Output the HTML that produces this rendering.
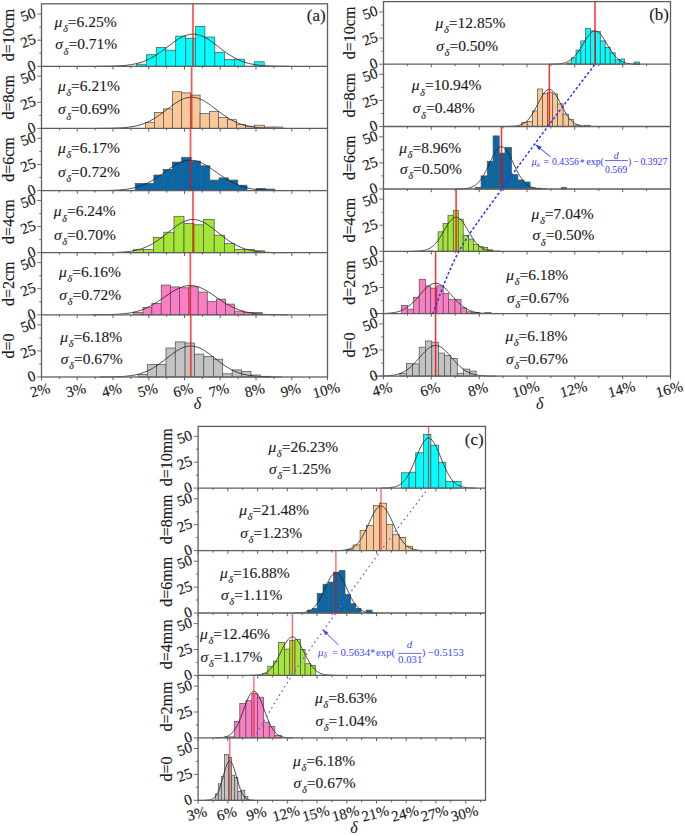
<!DOCTYPE html>
<html><head><meta charset="utf-8"><title>Histograms</title><style>html,body{margin:0;padding:0;background:#fff;width:685px;height:836px;overflow:hidden;}</style></head><body>
<svg width="685" height="836" viewBox="0 0 685 836" style="position:absolute;left:0;top:0;font-family:'Liberation Serif', serif;">
<rect x="0" y="0" width="685" height="836" fill="#ffffff"/>
<rect x="136.3" y="64.2" width="10.1" height="2.1" fill="#00ffff" stroke="#555" stroke-width="0.75"/>
<rect x="146.4" y="54.7" width="9.9" height="11.6" fill="#00ffff" stroke="#555" stroke-width="0.75"/>
<rect x="156.3" y="47.5" width="9.5" height="18.8" fill="#00ffff" stroke="#555" stroke-width="0.75"/>
<rect x="165.8" y="50.2" width="9.9" height="16.1" fill="#00ffff" stroke="#555" stroke-width="0.75"/>
<rect x="175.7" y="36.1" width="10" height="30.2" fill="#00ffff" stroke="#555" stroke-width="0.75"/>
<rect x="185.7" y="38.3" width="9.7" height="28" fill="#00ffff" stroke="#555" stroke-width="0.75"/>
<rect x="195.4" y="26.4" width="9.5" height="39.9" fill="#00ffff" stroke="#555" stroke-width="0.75"/>
<rect x="204.9" y="37" width="9.9" height="29.3" fill="#00ffff" stroke="#555" stroke-width="0.75"/>
<rect x="214.8" y="52.3" width="9.8" height="14" fill="#00ffff" stroke="#555" stroke-width="0.75"/>
<rect x="224.6" y="59.6" width="9.9" height="6.7" fill="#00ffff" stroke="#555" stroke-width="0.75"/>
<rect x="234.5" y="59.2" width="10" height="7.1" fill="#00ffff" stroke="#555" stroke-width="0.75"/>
<rect x="254.2" y="61.8" width="10" height="4.5" fill="#00ffff" stroke="#555" stroke-width="0.75"/>
<polyline points="96.5,66.3 99.0,66.3 101.4,66.3 103.8,66.2 106.2,66.2 108.6,66.2 111.0,66.1 113.4,66.1 115.8,66.0 118.2,65.9 120.7,65.7 123.1,65.6 125.5,65.4 127.9,65.1 130.3,64.8 132.7,64.4 135.1,63.9 137.5,63.3 140.0,62.7 142.4,61.9 144.8,61.0 147.2,60.0 149.6,58.8 152.0,57.6 154.4,56.2 156.8,54.6 159.2,53.0 161.7,51.3 164.1,49.5 166.5,47.6 168.9,45.8 171.3,44.0 173.7,42.2 176.1,40.5 178.5,38.9 180.9,37.5 183.4,36.3 185.8,35.4 188.2,34.7 190.6,34.2 193.0,34.1 195.4,34.2 197.8,34.7 200.2,35.4 202.6,36.3 205.1,37.5 207.5,38.9 209.9,40.5 212.3,42.2 214.7,44.0 217.1,45.8 219.5,47.6 221.9,49.5 224.3,51.3 226.8,53.0 229.2,54.6 231.6,56.2 234.0,57.6 236.4,58.8 238.8,60.0 241.2,61.0 243.6,61.9 246.0,62.7 248.5,63.3 250.9,63.9 253.3,64.4 255.7,64.8 258.1,65.1 260.5,65.4 262.9,65.6 265.3,65.7 267.8,65.9 270.2,66.0 272.6,66.1 275.0,66.1 277.4,66.2 279.8,66.2 282.2,66.2 284.6,66.3 287.0,66.3 289.5,66.3" fill="none" stroke="#222" stroke-width="0.8"/>
<line x1="193" y1="3.8" x2="193" y2="66.3" stroke="#ff0000" stroke-opacity="0.66" stroke-width="1.8"/>
<rect x="145.5" y="122.3" width="8.9" height="6.1" fill="#fac898" stroke="#555" stroke-width="0.75"/>
<rect x="154.4" y="112.6" width="9" height="15.8" fill="#fac898" stroke="#555" stroke-width="0.75"/>
<rect x="163.4" y="108.9" width="9.1" height="19.5" fill="#fac898" stroke="#555" stroke-width="0.75"/>
<rect x="172.5" y="91.7" width="9.1" height="36.7" fill="#fac898" stroke="#555" stroke-width="0.75"/>
<rect x="181.6" y="92.9" width="9.2" height="35.5" fill="#fac898" stroke="#555" stroke-width="0.75"/>
<rect x="190.8" y="95.1" width="9.3" height="33.3" fill="#fac898" stroke="#555" stroke-width="0.75"/>
<rect x="200.1" y="113.5" width="9.4" height="14.9" fill="#fac898" stroke="#555" stroke-width="0.75"/>
<rect x="209.5" y="111.6" width="8.9" height="16.8" fill="#fac898" stroke="#555" stroke-width="0.75"/>
<rect x="218.4" y="117.4" width="9.1" height="11" fill="#fac898" stroke="#555" stroke-width="0.75"/>
<rect x="227.5" y="119.7" width="9.1" height="8.7" fill="#fac898" stroke="#555" stroke-width="0.75"/>
<rect x="236.6" y="124.6" width="9" height="3.8" fill="#fac898" stroke="#555" stroke-width="0.75"/>
<rect x="245.6" y="126.2" width="8.9" height="2.2" fill="#fac898" stroke="#555" stroke-width="0.75"/>
<rect x="254.5" y="125.2" width="9.8" height="3.2" fill="#fac898" stroke="#555" stroke-width="0.75"/>
<rect x="264.3" y="127" width="9.3" height="1.4" fill="#fac898" stroke="#555" stroke-width="0.75"/>
<rect x="273.6" y="127" width="8.8" height="1.4" fill="#fac898" stroke="#555" stroke-width="0.75"/>
<polyline points="97.9,128.4 100.2,128.4 102.6,128.4 104.9,128.3 107.2,128.3 109.6,128.3 111.9,128.2 114.3,128.2 116.6,128.1 119.0,128.0 121.3,127.9 123.6,127.7 126.0,127.5 128.3,127.2 130.7,126.9 133.0,126.5 135.4,126.1 137.7,125.5 140.0,124.9 142.4,124.1 144.7,123.3 147.1,122.3 149.4,121.2 151.8,119.9 154.1,118.6 156.4,117.1 158.8,115.5 161.1,113.8 163.5,112.1 165.8,110.3 168.2,108.5 170.5,106.8 172.9,105.0 175.2,103.4 177.5,101.9 179.9,100.5 182.2,99.4 184.6,98.4 186.9,97.8 189.3,97.3 191.6,97.2 193.9,97.3 196.3,97.8 198.6,98.4 201.0,99.4 203.3,100.5 205.7,101.9 208.0,103.4 210.3,105.0 212.7,106.8 215.0,108.5 217.4,110.3 219.7,112.1 222.1,113.8 224.4,115.5 226.8,117.1 229.1,118.6 231.4,119.9 233.8,121.2 236.1,122.3 238.5,123.3 240.8,124.1 243.2,124.9 245.5,125.5 247.8,126.1 250.2,126.5 252.5,126.9 254.9,127.2 257.2,127.5 259.6,127.7 261.9,127.9 264.2,128.0 266.6,128.1 268.9,128.2 271.3,128.2 273.6,128.3 276.0,128.3 278.3,128.3 280.6,128.4 283.0,128.4 285.3,128.4" fill="none" stroke="#222" stroke-width="0.8"/>
<line x1="191.6" y1="66.3" x2="191.6" y2="128.4" stroke="#ff0000" stroke-opacity="0.66" stroke-width="1.8"/>
<rect x="135.2" y="183.4" width="9.3" height="7.2" fill="#0568aa" stroke="#555" stroke-width="0.75"/>
<rect x="144.5" y="183.4" width="9.4" height="7.2" fill="#0568aa" stroke="#555" stroke-width="0.75"/>
<rect x="153.9" y="175" width="9.3" height="15.6" fill="#0568aa" stroke="#555" stroke-width="0.75"/>
<rect x="163.2" y="169.4" width="9.1" height="21.2" fill="#0568aa" stroke="#555" stroke-width="0.75"/>
<rect x="172.3" y="162.1" width="9.4" height="28.5" fill="#0568aa" stroke="#555" stroke-width="0.75"/>
<rect x="181.7" y="157.3" width="9.4" height="33.3" fill="#0568aa" stroke="#555" stroke-width="0.75"/>
<rect x="191.1" y="161.1" width="9.5" height="29.5" fill="#0568aa" stroke="#555" stroke-width="0.75"/>
<rect x="200.6" y="165.8" width="9.2" height="24.8" fill="#0568aa" stroke="#555" stroke-width="0.75"/>
<rect x="209.8" y="180.1" width="9.2" height="10.5" fill="#0568aa" stroke="#555" stroke-width="0.75"/>
<rect x="219" y="177.9" width="9.4" height="12.7" fill="#0568aa" stroke="#555" stroke-width="0.75"/>
<rect x="228.4" y="180.1" width="9.4" height="10.5" fill="#0568aa" stroke="#555" stroke-width="0.75"/>
<rect x="237.8" y="185.2" width="9.2" height="5.4" fill="#0568aa" stroke="#555" stroke-width="0.75"/>
<rect x="256.2" y="188.4" width="9.1" height="2.2" fill="#0568aa" stroke="#555" stroke-width="0.75"/>
<rect x="265.3" y="189.1" width="9.5" height="1.5" fill="#0568aa" stroke="#555" stroke-width="0.75"/>
<polyline points="92.7,190.6 95.1,190.6 97.6,190.6 100.0,190.5 102.5,190.5 104.9,190.5 107.4,190.4 109.8,190.4 112.3,190.3 114.7,190.2 117.1,190.1 119.6,189.9 122.0,189.7 124.5,189.5 126.9,189.2 129.4,188.8 131.8,188.3 134.3,187.8 136.7,187.2 139.1,186.4 141.6,185.6 144.0,184.6 146.5,183.6 148.9,182.3 151.4,181.0 153.8,179.6 156.3,178.0 158.7,176.4 161.2,174.7 163.6,173.0 166.0,171.2 168.5,169.5 170.9,167.8 173.4,166.2 175.8,164.8 178.3,163.4 180.7,162.3 183.2,161.4 185.6,160.7 188.1,160.3 190.5,160.2 192.9,160.3 195.4,160.7 197.8,161.4 200.3,162.3 202.7,163.4 205.2,164.8 207.6,166.2 210.1,167.8 212.5,169.5 215.0,171.2 217.4,173.0 219.8,174.7 222.3,176.4 224.7,178.0 227.2,179.6 229.6,181.0 232.1,182.3 234.5,183.6 237.0,184.6 239.4,185.6 241.9,186.4 244.3,187.2 246.7,187.8 249.2,188.3 251.6,188.8 254.1,189.2 256.5,189.5 259.0,189.7 261.4,189.9 263.9,190.1 266.3,190.2 268.7,190.3 271.2,190.4 273.6,190.4 276.1,190.5 278.5,190.5 281.0,190.5 283.4,190.6 285.9,190.6 288.3,190.6" fill="none" stroke="#222" stroke-width="0.8"/>
<line x1="190.5" y1="128.4" x2="190.5" y2="190.6" stroke="#ff0000" stroke-opacity="0.66" stroke-width="1.8"/>
<rect x="133.4" y="249.7" width="10" height="3" fill="#a3e635" stroke="#555" stroke-width="0.75"/>
<rect x="143.4" y="249.4" width="10.1" height="3.3" fill="#a3e635" stroke="#555" stroke-width="0.75"/>
<rect x="153.5" y="237.4" width="10.3" height="15.3" fill="#a3e635" stroke="#555" stroke-width="0.75"/>
<rect x="163.8" y="232.2" width="10.2" height="20.5" fill="#a3e635" stroke="#555" stroke-width="0.75"/>
<rect x="174" y="216.3" width="10" height="36.4" fill="#a3e635" stroke="#555" stroke-width="0.75"/>
<rect x="184" y="223.6" width="10" height="29.1" fill="#a3e635" stroke="#555" stroke-width="0.75"/>
<rect x="194" y="224.8" width="9.5" height="27.9" fill="#a3e635" stroke="#555" stroke-width="0.75"/>
<rect x="203.5" y="219.5" width="10.7" height="33.2" fill="#a3e635" stroke="#555" stroke-width="0.75"/>
<rect x="214.2" y="235.2" width="10.2" height="17.5" fill="#a3e635" stroke="#555" stroke-width="0.75"/>
<rect x="224.4" y="243.5" width="10.2" height="9.2" fill="#a3e635" stroke="#555" stroke-width="0.75"/>
<rect x="234.6" y="249.4" width="10" height="3.3" fill="#a3e635" stroke="#555" stroke-width="0.75"/>
<rect x="244.6" y="249.4" width="9.7" height="3.3" fill="#a3e635" stroke="#555" stroke-width="0.75"/>
<rect x="254.3" y="250.8" width="10.3" height="1.9" fill="#a3e635" stroke="#555" stroke-width="0.75"/>
<polyline points="97.9,252.7 100.3,252.7 102.7,252.7 105.0,252.6 107.4,252.6 109.8,252.6 112.2,252.5 114.5,252.5 116.9,252.4 119.3,252.3 121.7,252.1 124.1,252.0 126.4,251.7 128.8,251.5 131.2,251.1 133.6,250.7 135.9,250.2 138.3,249.6 140.7,249.0 143.1,248.2 145.5,247.2 147.8,246.2 150.2,245.0 152.6,243.7 155.0,242.2 157.3,240.7 159.7,239.0 162.1,237.2 164.5,235.4 166.8,233.5 169.2,231.6 171.6,229.7 174.0,227.8 176.4,226.1 178.7,224.5 181.1,223.0 183.5,221.8 185.9,220.8 188.2,220.1 190.6,219.6 193.0,219.5 195.4,219.6 197.8,220.1 200.1,220.8 202.5,221.8 204.9,223.0 207.3,224.5 209.6,226.1 212.0,227.8 214.4,229.7 216.8,231.6 219.2,233.5 221.5,235.4 223.9,237.2 226.3,239.0 228.7,240.7 231.0,242.2 233.4,243.7 235.8,245.0 238.2,246.2 240.5,247.2 242.9,248.2 245.3,249.0 247.7,249.6 250.1,250.2 252.4,250.7 254.8,251.1 257.2,251.5 259.6,251.7 261.9,252.0 264.3,252.1 266.7,252.3 269.1,252.4 271.5,252.5 273.8,252.5 276.2,252.6 278.6,252.6 281.0,252.6 283.3,252.7 285.7,252.7 288.1,252.7" fill="none" stroke="#222" stroke-width="0.8"/>
<line x1="193" y1="190.6" x2="193" y2="252.7" stroke="#ff0000" stroke-opacity="0.66" stroke-width="1.8"/>
<rect x="133.4" y="312.3" width="9.6" height="2.5" fill="#fc7dc3" stroke="#555" stroke-width="0.75"/>
<rect x="143" y="307.6" width="8.9" height="7.2" fill="#fc7dc3" stroke="#555" stroke-width="0.75"/>
<rect x="151.9" y="303.4" width="9.3" height="11.4" fill="#fc7dc3" stroke="#555" stroke-width="0.75"/>
<rect x="161.2" y="285.1" width="9.4" height="29.7" fill="#fc7dc3" stroke="#555" stroke-width="0.75"/>
<rect x="170.6" y="286.9" width="9" height="27.9" fill="#fc7dc3" stroke="#555" stroke-width="0.75"/>
<rect x="179.6" y="287.8" width="9.3" height="27" fill="#fc7dc3" stroke="#555" stroke-width="0.75"/>
<rect x="188.9" y="286.8" width="9.3" height="28" fill="#fc7dc3" stroke="#555" stroke-width="0.75"/>
<rect x="198.2" y="292.1" width="9.1" height="22.7" fill="#fc7dc3" stroke="#555" stroke-width="0.75"/>
<rect x="207.3" y="301.6" width="9.1" height="13.2" fill="#fc7dc3" stroke="#555" stroke-width="0.75"/>
<rect x="216.4" y="299.1" width="9.2" height="15.7" fill="#fc7dc3" stroke="#555" stroke-width="0.75"/>
<rect x="225.6" y="304.1" width="9" height="10.7" fill="#fc7dc3" stroke="#555" stroke-width="0.75"/>
<rect x="234.6" y="311.1" width="9.1" height="3.7" fill="#fc7dc3" stroke="#555" stroke-width="0.75"/>
<rect x="243.7" y="312.6" width="9.2" height="2.2" fill="#fc7dc3" stroke="#555" stroke-width="0.75"/>
<rect x="252.9" y="312.6" width="9.2" height="2.2" fill="#fc7dc3" stroke="#555" stroke-width="0.75"/>
<polyline points="92.5,314.8 94.9,314.8 97.4,314.8 99.8,314.7 102.3,314.7 104.7,314.7 107.2,314.6 109.6,314.6 112.1,314.5 114.5,314.4 116.9,314.3 119.4,314.1 121.8,313.9 124.3,313.7 126.7,313.4 129.2,313.1 131.6,312.6 134.1,312.1 136.5,311.5 138.9,310.8 141.4,310.0 143.8,309.1 146.3,308.0 148.7,306.8 151.2,305.6 153.6,304.2 156.1,302.7 158.5,301.1 161.0,299.5 163.4,297.8 165.8,296.1 168.3,294.5 170.7,292.8 173.2,291.3 175.6,289.9 178.1,288.6 180.5,287.5 183.0,286.7 185.4,286.0 187.9,285.6 190.3,285.5 192.7,285.6 195.2,286.0 197.6,286.7 200.1,287.5 202.5,288.6 205.0,289.9 207.4,291.3 209.9,292.8 212.3,294.5 214.8,296.1 217.2,297.8 219.6,299.5 222.1,301.1 224.5,302.7 227.0,304.2 229.4,305.6 231.9,306.8 234.3,308.0 236.8,309.1 239.2,310.0 241.7,310.8 244.1,311.5 246.5,312.1 249.0,312.6 251.4,313.1 253.9,313.4 256.3,313.7 258.8,313.9 261.2,314.1 263.7,314.3 266.1,314.4 268.5,314.5 271.0,314.6 273.4,314.6 275.9,314.7 278.3,314.7 280.8,314.7 283.2,314.8 285.7,314.8 288.1,314.8" fill="none" stroke="#222" stroke-width="0.8"/>
<line x1="190.3" y1="252.7" x2="190.3" y2="314.8" stroke="#ff0000" stroke-opacity="0.66" stroke-width="1.8"/>
<rect x="138.2" y="374.6" width="9.1" height="2.4" fill="#c3c3c3" stroke="#555" stroke-width="0.75"/>
<rect x="147.3" y="364.4" width="9.3" height="12.6" fill="#c3c3c3" stroke="#555" stroke-width="0.75"/>
<rect x="156.6" y="364.4" width="9.4" height="12.6" fill="#c3c3c3" stroke="#555" stroke-width="0.75"/>
<rect x="166" y="348" width="9.3" height="29" fill="#c3c3c3" stroke="#555" stroke-width="0.75"/>
<rect x="175.3" y="341.9" width="9.8" height="35.1" fill="#c3c3c3" stroke="#555" stroke-width="0.75"/>
<rect x="185.1" y="343" width="9.5" height="34" fill="#c3c3c3" stroke="#555" stroke-width="0.75"/>
<rect x="194.6" y="354.1" width="9.2" height="22.9" fill="#c3c3c3" stroke="#555" stroke-width="0.75"/>
<rect x="203.8" y="356.4" width="9.7" height="20.6" fill="#c3c3c3" stroke="#555" stroke-width="0.75"/>
<rect x="213.5" y="359.2" width="9.2" height="17.8" fill="#c3c3c3" stroke="#555" stroke-width="0.75"/>
<rect x="222.7" y="373.8" width="9.5" height="3.2" fill="#c3c3c3" stroke="#555" stroke-width="0.75"/>
<rect x="232.2" y="369.9" width="9.5" height="7.1" fill="#c3c3c3" stroke="#555" stroke-width="0.75"/>
<rect x="241.7" y="371.6" width="9.2" height="5.4" fill="#c3c3c3" stroke="#555" stroke-width="0.75"/>
<rect x="250.9" y="375" width="9.4" height="2" fill="#c3c3c3" stroke="#555" stroke-width="0.75"/>
<rect x="260.3" y="376.3" width="9.9" height="0.7" fill="#c3c3c3" stroke="#555" stroke-width="0.75"/>
<polyline points="99.8,377.0 102.1,377.0 104.3,377.0 106.6,376.9 108.9,376.9 111.2,376.9 113.4,376.8 115.7,376.8 118.0,376.7 120.3,376.6 122.5,376.5 124.8,376.3 127.1,376.1 129.4,375.8 131.6,375.5 133.9,375.2 136.2,374.7 138.5,374.2 140.7,373.5 143.0,372.8 145.3,371.9 147.6,370.9 149.8,369.8 152.1,368.6 154.4,367.2 156.7,365.8 158.9,364.2 161.2,362.5 163.5,360.8 165.8,359.0 168.0,357.3 170.3,355.5 172.6,353.8 174.9,352.1 177.1,350.6 179.4,349.3 181.7,348.2 184.0,347.2 186.2,346.6 188.5,346.1 190.8,346.0 193.1,346.1 195.4,346.6 197.6,347.2 199.9,348.2 202.2,349.3 204.5,350.6 206.7,352.1 209.0,353.8 211.3,355.5 213.6,357.3 215.8,359.0 218.1,360.8 220.4,362.5 222.7,364.2 224.9,365.8 227.2,367.2 229.5,368.6 231.8,369.8 234.0,370.9 236.3,371.9 238.6,372.8 240.9,373.5 243.1,374.2 245.4,374.7 247.7,375.2 250.0,375.5 252.2,375.8 254.5,376.1 256.8,376.3 259.1,376.5 261.3,376.6 263.6,376.7 265.9,376.8 268.2,376.8 270.4,376.9 272.7,376.9 275.0,376.9 277.3,377.0 279.5,377.0 281.8,377.0" fill="none" stroke="#222" stroke-width="0.8"/>
<line x1="190.8" y1="314.8" x2="190.8" y2="377" stroke="#ff0000" stroke-opacity="0.66" stroke-width="1.8"/>
<rect x="41.5" y="3.8" width="286.0" height="373.2" fill="none" stroke="#5e5e5e" stroke-width="1.3"/>
<line x1="41.5" y1="66.3" x2="327.5" y2="66.3" stroke="#5e5e5e" stroke-width="1.3"/>
<line x1="41.5" y1="128.4" x2="327.5" y2="128.4" stroke="#5e5e5e" stroke-width="1.3"/>
<line x1="41.5" y1="190.6" x2="327.5" y2="190.6" stroke="#5e5e5e" stroke-width="1.3"/>
<line x1="41.5" y1="252.7" x2="327.5" y2="252.7" stroke="#5e5e5e" stroke-width="1.3"/>
<line x1="41.5" y1="314.8" x2="327.5" y2="314.8" stroke="#5e5e5e" stroke-width="1.3"/>
<line x1="37.2" y1="66.3" x2="41.5" y2="66.3" stroke="#5e5e5e" stroke-width="0.9"/>
<line x1="39.3" y1="53.2" x2="41.5" y2="53.2" stroke="#5e5e5e" stroke-width="0.9"/>
<line x1="37.2" y1="40.2" x2="41.5" y2="40.2" stroke="#5e5e5e" stroke-width="0.9"/>
<line x1="39.3" y1="27.1" x2="41.5" y2="27.1" stroke="#5e5e5e" stroke-width="0.9"/>
<line x1="37.2" y1="14.1" x2="41.5" y2="14.1" stroke="#5e5e5e" stroke-width="0.9"/>
<line x1="41.5" y1="66.3" x2="41.5" y2="69.5" stroke="#5e5e5e" stroke-width="1.0"/>
<line x1="59.4" y1="66.3" x2="59.4" y2="68.3" stroke="#5e5e5e" stroke-width="1.0"/>
<line x1="77.2" y1="66.3" x2="77.2" y2="69.5" stroke="#5e5e5e" stroke-width="1.0"/>
<line x1="95.1" y1="66.3" x2="95.1" y2="68.3" stroke="#5e5e5e" stroke-width="1.0"/>
<line x1="113.0" y1="66.3" x2="113.0" y2="69.5" stroke="#5e5e5e" stroke-width="1.0"/>
<line x1="130.9" y1="66.3" x2="130.9" y2="68.3" stroke="#5e5e5e" stroke-width="1.0"/>
<line x1="148.8" y1="66.3" x2="148.8" y2="69.5" stroke="#5e5e5e" stroke-width="1.0"/>
<line x1="166.6" y1="66.3" x2="166.6" y2="68.3" stroke="#5e5e5e" stroke-width="1.0"/>
<line x1="184.5" y1="66.3" x2="184.5" y2="69.5" stroke="#5e5e5e" stroke-width="1.0"/>
<line x1="202.4" y1="66.3" x2="202.4" y2="68.3" stroke="#5e5e5e" stroke-width="1.0"/>
<line x1="220.2" y1="66.3" x2="220.2" y2="69.5" stroke="#5e5e5e" stroke-width="1.0"/>
<line x1="238.1" y1="66.3" x2="238.1" y2="68.3" stroke="#5e5e5e" stroke-width="1.0"/>
<line x1="256.0" y1="66.3" x2="256.0" y2="69.5" stroke="#5e5e5e" stroke-width="1.0"/>
<line x1="273.9" y1="66.3" x2="273.9" y2="68.3" stroke="#5e5e5e" stroke-width="1.0"/>
<line x1="291.8" y1="66.3" x2="291.8" y2="69.5" stroke="#5e5e5e" stroke-width="1.0"/>
<line x1="309.6" y1="66.3" x2="309.6" y2="68.3" stroke="#5e5e5e" stroke-width="1.0"/>
<line x1="327.5" y1="66.3" x2="327.5" y2="69.5" stroke="#5e5e5e" stroke-width="1.0"/>
<line x1="37.2" y1="128.4" x2="41.5" y2="128.4" stroke="#5e5e5e" stroke-width="0.9"/>
<line x1="39.3" y1="115.4" x2="41.5" y2="115.4" stroke="#5e5e5e" stroke-width="0.9"/>
<line x1="37.2" y1="102.3" x2="41.5" y2="102.3" stroke="#5e5e5e" stroke-width="0.9"/>
<line x1="39.3" y1="89.2" x2="41.5" y2="89.2" stroke="#5e5e5e" stroke-width="0.9"/>
<line x1="37.2" y1="76.2" x2="41.5" y2="76.2" stroke="#5e5e5e" stroke-width="0.9"/>
<line x1="41.5" y1="128.4" x2="41.5" y2="131.6" stroke="#5e5e5e" stroke-width="1.0"/>
<line x1="59.4" y1="128.4" x2="59.4" y2="130.4" stroke="#5e5e5e" stroke-width="1.0"/>
<line x1="77.2" y1="128.4" x2="77.2" y2="131.6" stroke="#5e5e5e" stroke-width="1.0"/>
<line x1="95.1" y1="128.4" x2="95.1" y2="130.4" stroke="#5e5e5e" stroke-width="1.0"/>
<line x1="113.0" y1="128.4" x2="113.0" y2="131.6" stroke="#5e5e5e" stroke-width="1.0"/>
<line x1="130.9" y1="128.4" x2="130.9" y2="130.4" stroke="#5e5e5e" stroke-width="1.0"/>
<line x1="148.8" y1="128.4" x2="148.8" y2="131.6" stroke="#5e5e5e" stroke-width="1.0"/>
<line x1="166.6" y1="128.4" x2="166.6" y2="130.4" stroke="#5e5e5e" stroke-width="1.0"/>
<line x1="184.5" y1="128.4" x2="184.5" y2="131.6" stroke="#5e5e5e" stroke-width="1.0"/>
<line x1="202.4" y1="128.4" x2="202.4" y2="130.4" stroke="#5e5e5e" stroke-width="1.0"/>
<line x1="220.2" y1="128.4" x2="220.2" y2="131.6" stroke="#5e5e5e" stroke-width="1.0"/>
<line x1="238.1" y1="128.4" x2="238.1" y2="130.4" stroke="#5e5e5e" stroke-width="1.0"/>
<line x1="256.0" y1="128.4" x2="256.0" y2="131.6" stroke="#5e5e5e" stroke-width="1.0"/>
<line x1="273.9" y1="128.4" x2="273.9" y2="130.4" stroke="#5e5e5e" stroke-width="1.0"/>
<line x1="291.8" y1="128.4" x2="291.8" y2="131.6" stroke="#5e5e5e" stroke-width="1.0"/>
<line x1="309.6" y1="128.4" x2="309.6" y2="130.4" stroke="#5e5e5e" stroke-width="1.0"/>
<line x1="327.5" y1="128.4" x2="327.5" y2="131.6" stroke="#5e5e5e" stroke-width="1.0"/>
<line x1="37.2" y1="190.6" x2="41.5" y2="190.6" stroke="#5e5e5e" stroke-width="0.9"/>
<line x1="39.3" y1="177.5" x2="41.5" y2="177.5" stroke="#5e5e5e" stroke-width="0.9"/>
<line x1="37.2" y1="164.5" x2="41.5" y2="164.5" stroke="#5e5e5e" stroke-width="0.9"/>
<line x1="39.3" y1="151.4" x2="41.5" y2="151.4" stroke="#5e5e5e" stroke-width="0.9"/>
<line x1="37.2" y1="138.4" x2="41.5" y2="138.4" stroke="#5e5e5e" stroke-width="0.9"/>
<line x1="41.5" y1="190.6" x2="41.5" y2="193.79999999999998" stroke="#5e5e5e" stroke-width="1.0"/>
<line x1="59.4" y1="190.6" x2="59.4" y2="192.6" stroke="#5e5e5e" stroke-width="1.0"/>
<line x1="77.2" y1="190.6" x2="77.2" y2="193.79999999999998" stroke="#5e5e5e" stroke-width="1.0"/>
<line x1="95.1" y1="190.6" x2="95.1" y2="192.6" stroke="#5e5e5e" stroke-width="1.0"/>
<line x1="113.0" y1="190.6" x2="113.0" y2="193.79999999999998" stroke="#5e5e5e" stroke-width="1.0"/>
<line x1="130.9" y1="190.6" x2="130.9" y2="192.6" stroke="#5e5e5e" stroke-width="1.0"/>
<line x1="148.8" y1="190.6" x2="148.8" y2="193.79999999999998" stroke="#5e5e5e" stroke-width="1.0"/>
<line x1="166.6" y1="190.6" x2="166.6" y2="192.6" stroke="#5e5e5e" stroke-width="1.0"/>
<line x1="184.5" y1="190.6" x2="184.5" y2="193.79999999999998" stroke="#5e5e5e" stroke-width="1.0"/>
<line x1="202.4" y1="190.6" x2="202.4" y2="192.6" stroke="#5e5e5e" stroke-width="1.0"/>
<line x1="220.2" y1="190.6" x2="220.2" y2="193.79999999999998" stroke="#5e5e5e" stroke-width="1.0"/>
<line x1="238.1" y1="190.6" x2="238.1" y2="192.6" stroke="#5e5e5e" stroke-width="1.0"/>
<line x1="256.0" y1="190.6" x2="256.0" y2="193.79999999999998" stroke="#5e5e5e" stroke-width="1.0"/>
<line x1="273.9" y1="190.6" x2="273.9" y2="192.6" stroke="#5e5e5e" stroke-width="1.0"/>
<line x1="291.8" y1="190.6" x2="291.8" y2="193.79999999999998" stroke="#5e5e5e" stroke-width="1.0"/>
<line x1="309.6" y1="190.6" x2="309.6" y2="192.6" stroke="#5e5e5e" stroke-width="1.0"/>
<line x1="327.5" y1="190.6" x2="327.5" y2="193.79999999999998" stroke="#5e5e5e" stroke-width="1.0"/>
<line x1="37.2" y1="252.7" x2="41.5" y2="252.7" stroke="#5e5e5e" stroke-width="0.9"/>
<line x1="39.3" y1="239.6" x2="41.5" y2="239.6" stroke="#5e5e5e" stroke-width="0.9"/>
<line x1="37.2" y1="226.6" x2="41.5" y2="226.6" stroke="#5e5e5e" stroke-width="0.9"/>
<line x1="39.3" y1="213.5" x2="41.5" y2="213.5" stroke="#5e5e5e" stroke-width="0.9"/>
<line x1="37.2" y1="200.5" x2="41.5" y2="200.5" stroke="#5e5e5e" stroke-width="0.9"/>
<line x1="41.5" y1="252.7" x2="41.5" y2="255.89999999999998" stroke="#5e5e5e" stroke-width="1.0"/>
<line x1="59.4" y1="252.7" x2="59.4" y2="254.7" stroke="#5e5e5e" stroke-width="1.0"/>
<line x1="77.2" y1="252.7" x2="77.2" y2="255.89999999999998" stroke="#5e5e5e" stroke-width="1.0"/>
<line x1="95.1" y1="252.7" x2="95.1" y2="254.7" stroke="#5e5e5e" stroke-width="1.0"/>
<line x1="113.0" y1="252.7" x2="113.0" y2="255.89999999999998" stroke="#5e5e5e" stroke-width="1.0"/>
<line x1="130.9" y1="252.7" x2="130.9" y2="254.7" stroke="#5e5e5e" stroke-width="1.0"/>
<line x1="148.8" y1="252.7" x2="148.8" y2="255.89999999999998" stroke="#5e5e5e" stroke-width="1.0"/>
<line x1="166.6" y1="252.7" x2="166.6" y2="254.7" stroke="#5e5e5e" stroke-width="1.0"/>
<line x1="184.5" y1="252.7" x2="184.5" y2="255.89999999999998" stroke="#5e5e5e" stroke-width="1.0"/>
<line x1="202.4" y1="252.7" x2="202.4" y2="254.7" stroke="#5e5e5e" stroke-width="1.0"/>
<line x1="220.2" y1="252.7" x2="220.2" y2="255.89999999999998" stroke="#5e5e5e" stroke-width="1.0"/>
<line x1="238.1" y1="252.7" x2="238.1" y2="254.7" stroke="#5e5e5e" stroke-width="1.0"/>
<line x1="256.0" y1="252.7" x2="256.0" y2="255.89999999999998" stroke="#5e5e5e" stroke-width="1.0"/>
<line x1="273.9" y1="252.7" x2="273.9" y2="254.7" stroke="#5e5e5e" stroke-width="1.0"/>
<line x1="291.8" y1="252.7" x2="291.8" y2="255.89999999999998" stroke="#5e5e5e" stroke-width="1.0"/>
<line x1="309.6" y1="252.7" x2="309.6" y2="254.7" stroke="#5e5e5e" stroke-width="1.0"/>
<line x1="327.5" y1="252.7" x2="327.5" y2="255.89999999999998" stroke="#5e5e5e" stroke-width="1.0"/>
<line x1="37.2" y1="314.8" x2="41.5" y2="314.8" stroke="#5e5e5e" stroke-width="0.9"/>
<line x1="39.3" y1="301.8" x2="41.5" y2="301.8" stroke="#5e5e5e" stroke-width="0.9"/>
<line x1="37.2" y1="288.7" x2="41.5" y2="288.7" stroke="#5e5e5e" stroke-width="0.9"/>
<line x1="39.3" y1="275.7" x2="41.5" y2="275.7" stroke="#5e5e5e" stroke-width="0.9"/>
<line x1="37.2" y1="262.6" x2="41.5" y2="262.6" stroke="#5e5e5e" stroke-width="0.9"/>
<line x1="41.5" y1="314.8" x2="41.5" y2="318.0" stroke="#5e5e5e" stroke-width="1.0"/>
<line x1="59.4" y1="314.8" x2="59.4" y2="316.8" stroke="#5e5e5e" stroke-width="1.0"/>
<line x1="77.2" y1="314.8" x2="77.2" y2="318.0" stroke="#5e5e5e" stroke-width="1.0"/>
<line x1="95.1" y1="314.8" x2="95.1" y2="316.8" stroke="#5e5e5e" stroke-width="1.0"/>
<line x1="113.0" y1="314.8" x2="113.0" y2="318.0" stroke="#5e5e5e" stroke-width="1.0"/>
<line x1="130.9" y1="314.8" x2="130.9" y2="316.8" stroke="#5e5e5e" stroke-width="1.0"/>
<line x1="148.8" y1="314.8" x2="148.8" y2="318.0" stroke="#5e5e5e" stroke-width="1.0"/>
<line x1="166.6" y1="314.8" x2="166.6" y2="316.8" stroke="#5e5e5e" stroke-width="1.0"/>
<line x1="184.5" y1="314.8" x2="184.5" y2="318.0" stroke="#5e5e5e" stroke-width="1.0"/>
<line x1="202.4" y1="314.8" x2="202.4" y2="316.8" stroke="#5e5e5e" stroke-width="1.0"/>
<line x1="220.2" y1="314.8" x2="220.2" y2="318.0" stroke="#5e5e5e" stroke-width="1.0"/>
<line x1="238.1" y1="314.8" x2="238.1" y2="316.8" stroke="#5e5e5e" stroke-width="1.0"/>
<line x1="256.0" y1="314.8" x2="256.0" y2="318.0" stroke="#5e5e5e" stroke-width="1.0"/>
<line x1="273.9" y1="314.8" x2="273.9" y2="316.8" stroke="#5e5e5e" stroke-width="1.0"/>
<line x1="291.8" y1="314.8" x2="291.8" y2="318.0" stroke="#5e5e5e" stroke-width="1.0"/>
<line x1="309.6" y1="314.8" x2="309.6" y2="316.8" stroke="#5e5e5e" stroke-width="1.0"/>
<line x1="327.5" y1="314.8" x2="327.5" y2="318.0" stroke="#5e5e5e" stroke-width="1.0"/>
<line x1="37.2" y1="377.0" x2="41.5" y2="377.0" stroke="#5e5e5e" stroke-width="0.9"/>
<line x1="39.3" y1="363.9" x2="41.5" y2="363.9" stroke="#5e5e5e" stroke-width="0.9"/>
<line x1="37.2" y1="350.9" x2="41.5" y2="350.9" stroke="#5e5e5e" stroke-width="0.9"/>
<line x1="39.3" y1="337.9" x2="41.5" y2="337.9" stroke="#5e5e5e" stroke-width="0.9"/>
<line x1="37.2" y1="324.8" x2="41.5" y2="324.8" stroke="#5e5e5e" stroke-width="0.9"/>
<line x1="41.5" y1="377.0" x2="41.5" y2="380.2" stroke="#5e5e5e" stroke-width="1.0"/>
<line x1="59.4" y1="377.0" x2="59.4" y2="379.0" stroke="#5e5e5e" stroke-width="1.0"/>
<line x1="77.2" y1="377.0" x2="77.2" y2="380.2" stroke="#5e5e5e" stroke-width="1.0"/>
<line x1="95.1" y1="377.0" x2="95.1" y2="379.0" stroke="#5e5e5e" stroke-width="1.0"/>
<line x1="113.0" y1="377.0" x2="113.0" y2="380.2" stroke="#5e5e5e" stroke-width="1.0"/>
<line x1="130.9" y1="377.0" x2="130.9" y2="379.0" stroke="#5e5e5e" stroke-width="1.0"/>
<line x1="148.8" y1="377.0" x2="148.8" y2="380.2" stroke="#5e5e5e" stroke-width="1.0"/>
<line x1="166.6" y1="377.0" x2="166.6" y2="379.0" stroke="#5e5e5e" stroke-width="1.0"/>
<line x1="184.5" y1="377.0" x2="184.5" y2="380.2" stroke="#5e5e5e" stroke-width="1.0"/>
<line x1="202.4" y1="377.0" x2="202.4" y2="379.0" stroke="#5e5e5e" stroke-width="1.0"/>
<line x1="220.2" y1="377.0" x2="220.2" y2="380.2" stroke="#5e5e5e" stroke-width="1.0"/>
<line x1="238.1" y1="377.0" x2="238.1" y2="379.0" stroke="#5e5e5e" stroke-width="1.0"/>
<line x1="256.0" y1="377.0" x2="256.0" y2="380.2" stroke="#5e5e5e" stroke-width="1.0"/>
<line x1="273.9" y1="377.0" x2="273.9" y2="379.0" stroke="#5e5e5e" stroke-width="1.0"/>
<line x1="291.8" y1="377.0" x2="291.8" y2="380.2" stroke="#5e5e5e" stroke-width="1.0"/>
<line x1="309.6" y1="377.0" x2="309.6" y2="379.0" stroke="#5e5e5e" stroke-width="1.0"/>
<line x1="327.5" y1="377.0" x2="327.5" y2="380.2" stroke="#5e5e5e" stroke-width="1.0"/>
<text x="0" y="0" font-size="15" text-anchor="end" transform="translate(36.8,69.1) rotate(-20)" fill="#1a1a1a" stroke="#1a1a1a" stroke-width="0.15">0</text>
<text x="0" y="0" font-size="15" text-anchor="end" transform="translate(36.8,43.0) rotate(-20)" fill="#1a1a1a" stroke="#1a1a1a" stroke-width="0.15">25</text>
<text x="0" y="0" font-size="15" text-anchor="end" transform="translate(36.8,16.9) rotate(-20)" fill="#1a1a1a" stroke="#1a1a1a" stroke-width="0.15">50</text>
<text x="0" y="0" font-size="16" text-anchor="middle" transform="translate(13.9,35.0) rotate(-90)" fill="#1a1a1a" stroke="#1a1a1a" stroke-width="0.15">d=10cm</text>
<text x="0" y="0" font-size="15" text-anchor="end" transform="translate(36.8,131.2) rotate(-20)" fill="#1a1a1a" stroke="#1a1a1a" stroke-width="0.15">0</text>
<text x="0" y="0" font-size="15" text-anchor="end" transform="translate(36.8,105.1) rotate(-20)" fill="#1a1a1a" stroke="#1a1a1a" stroke-width="0.15">25</text>
<text x="0" y="0" font-size="15" text-anchor="end" transform="translate(36.8,79.0) rotate(-20)" fill="#1a1a1a" stroke="#1a1a1a" stroke-width="0.15">50</text>
<text x="0" y="0" font-size="16" text-anchor="middle" transform="translate(13.9,97.3) rotate(-90)" fill="#1a1a1a" stroke="#1a1a1a" stroke-width="0.15">d=8cm</text>
<text x="0" y="0" font-size="15" text-anchor="end" transform="translate(36.8,193.4) rotate(-20)" fill="#1a1a1a" stroke="#1a1a1a" stroke-width="0.15">0</text>
<text x="0" y="0" font-size="15" text-anchor="end" transform="translate(36.8,167.3) rotate(-20)" fill="#1a1a1a" stroke="#1a1a1a" stroke-width="0.15">25</text>
<text x="0" y="0" font-size="15" text-anchor="end" transform="translate(36.8,141.2) rotate(-20)" fill="#1a1a1a" stroke="#1a1a1a" stroke-width="0.15">50</text>
<text x="0" y="0" font-size="16" text-anchor="middle" transform="translate(13.9,159.5) rotate(-90)" fill="#1a1a1a" stroke="#1a1a1a" stroke-width="0.15">d=6cm</text>
<text x="0" y="0" font-size="15" text-anchor="end" transform="translate(36.8,255.5) rotate(-20)" fill="#1a1a1a" stroke="#1a1a1a" stroke-width="0.15">0</text>
<text x="0" y="0" font-size="15" text-anchor="end" transform="translate(36.8,229.4) rotate(-20)" fill="#1a1a1a" stroke="#1a1a1a" stroke-width="0.15">25</text>
<text x="0" y="0" font-size="15" text-anchor="end" transform="translate(36.8,203.3) rotate(-20)" fill="#1a1a1a" stroke="#1a1a1a" stroke-width="0.15">50</text>
<text x="0" y="0" font-size="16" text-anchor="middle" transform="translate(13.9,221.6) rotate(-90)" fill="#1a1a1a" stroke="#1a1a1a" stroke-width="0.15">d=4cm</text>
<text x="0" y="0" font-size="15" text-anchor="end" transform="translate(36.8,317.6) rotate(-20)" fill="#1a1a1a" stroke="#1a1a1a" stroke-width="0.15">0</text>
<text x="0" y="0" font-size="15" text-anchor="end" transform="translate(36.8,291.5) rotate(-20)" fill="#1a1a1a" stroke="#1a1a1a" stroke-width="0.15">25</text>
<text x="0" y="0" font-size="15" text-anchor="end" transform="translate(36.8,265.4) rotate(-20)" fill="#1a1a1a" stroke="#1a1a1a" stroke-width="0.15">50</text>
<text x="0" y="0" font-size="16" text-anchor="middle" transform="translate(13.9,283.8) rotate(-90)" fill="#1a1a1a" stroke="#1a1a1a" stroke-width="0.15">d=2cm</text>
<text x="0" y="0" font-size="15" text-anchor="end" transform="translate(36.8,379.8) rotate(-20)" fill="#1a1a1a" stroke="#1a1a1a" stroke-width="0.15">0</text>
<text x="0" y="0" font-size="15" text-anchor="end" transform="translate(36.8,353.7) rotate(-20)" fill="#1a1a1a" stroke="#1a1a1a" stroke-width="0.15">25</text>
<text x="0" y="0" font-size="15" text-anchor="end" transform="translate(36.8,327.6) rotate(-20)" fill="#1a1a1a" stroke="#1a1a1a" stroke-width="0.15">50</text>
<text x="0" y="0" font-size="16" text-anchor="middle" transform="translate(13.9,345.9) rotate(-90)" fill="#1a1a1a" stroke="#1a1a1a" stroke-width="0.15">d=0</text>
<text x="0" y="0" font-size="15" text-anchor="middle" transform="translate(41.5,395.0) rotate(-15)" fill="#1a1a1a" stroke="#1a1a1a" stroke-width="0.15">2%</text>
<text x="0" y="0" font-size="15" text-anchor="middle" transform="translate(77.2,395.0) rotate(-15)" fill="#1a1a1a" stroke="#1a1a1a" stroke-width="0.15">3%</text>
<text x="0" y="0" font-size="15" text-anchor="middle" transform="translate(113.0,395.0) rotate(-15)" fill="#1a1a1a" stroke="#1a1a1a" stroke-width="0.15">4%</text>
<text x="0" y="0" font-size="15" text-anchor="middle" transform="translate(148.8,395.0) rotate(-15)" fill="#1a1a1a" stroke="#1a1a1a" stroke-width="0.15">5%</text>
<text x="0" y="0" font-size="15" text-anchor="middle" transform="translate(184.5,395.0) rotate(-15)" fill="#1a1a1a" stroke="#1a1a1a" stroke-width="0.15">6%</text>
<text x="0" y="0" font-size="15" text-anchor="middle" transform="translate(220.2,395.0) rotate(-15)" fill="#1a1a1a" stroke="#1a1a1a" stroke-width="0.15">7%</text>
<text x="0" y="0" font-size="15" text-anchor="middle" transform="translate(256.0,395.0) rotate(-15)" fill="#1a1a1a" stroke="#1a1a1a" stroke-width="0.15">8%</text>
<text x="0" y="0" font-size="15" text-anchor="middle" transform="translate(291.8,395.0) rotate(-15)" fill="#1a1a1a" stroke="#1a1a1a" stroke-width="0.15">9%</text>
<text x="0" y="0" font-size="15" text-anchor="middle" transform="translate(327.5,395.0) rotate(-15)" fill="#1a1a1a" stroke="#1a1a1a" stroke-width="0.15">10%</text>
<text x="197.5" y="409.4" font-size="16" font-style="italic" text-anchor="middle" fill="#1a1a1a">&#948;</text>
<text x="325.6" y="20.9" font-size="17" text-anchor="end" fill="#1a1a1a" stroke="#1a1a1a" stroke-width="0.12">(a)</text>
<text y="26.8" font-size="15.5" fill="#1a1a1a" stroke="#1a1a1a" stroke-width="0.12"><tspan x="54.6" font-style="italic">&#956;</tspan><tspan x="62.9" y="32.0" font-size="10.5" font-style="italic">&#948;</tspan><tspan x="67.8" y="26.8">=6.25%</tspan></text>
<text y="49.4" font-size="15.5" fill="#1a1a1a" stroke="#1a1a1a" stroke-width="0.12"><tspan x="55.3" font-style="italic">&#963;</tspan><tspan x="63.6" y="54.6" font-size="10.5" font-style="italic">&#948;</tspan><tspan x="68.5" y="49.4">=0.71%</tspan></text>
<text y="90.8" font-size="15.5" fill="#1a1a1a" stroke="#1a1a1a" stroke-width="0.12"><tspan x="57.9" font-style="italic">&#956;</tspan><tspan x="66.2" y="96.0" font-size="10.5" font-style="italic">&#948;</tspan><tspan x="71.1" y="90.8">=6.21%</tspan></text>
<text y="114.3" font-size="15.5" fill="#1a1a1a" stroke="#1a1a1a" stroke-width="0.12"><tspan x="57.9" font-style="italic">&#963;</tspan><tspan x="66.2" y="119.5" font-size="10.5" font-style="italic">&#948;</tspan><tspan x="71.1" y="114.3">=0.69%</tspan></text>
<text y="152.7" font-size="15.5" fill="#1a1a1a" stroke="#1a1a1a" stroke-width="0.12"><tspan x="57.9" font-style="italic">&#956;</tspan><tspan x="66.2" y="157.9" font-size="10.5" font-style="italic">&#948;</tspan><tspan x="71.1" y="152.7">=6.17%</tspan></text>
<text y="176.5" font-size="15.5" fill="#1a1a1a" stroke="#1a1a1a" stroke-width="0.12"><tspan x="57.9" font-style="italic">&#963;</tspan><tspan x="66.2" y="181.7" font-size="10.5" font-style="italic">&#948;</tspan><tspan x="71.1" y="176.5">=0.72%</tspan></text>
<text y="216.3" font-size="15.5" fill="#1a1a1a" stroke="#1a1a1a" stroke-width="0.12"><tspan x="53.7" font-style="italic">&#956;</tspan><tspan x="62.0" y="221.5" font-size="10.5" font-style="italic">&#948;</tspan><tspan x="66.9" y="216.3">=6.24%</tspan></text>
<text y="239.6" font-size="15.5" fill="#1a1a1a" stroke="#1a1a1a" stroke-width="0.12"><tspan x="53.9" font-style="italic">&#963;</tspan><tspan x="62.2" y="244.8" font-size="10.5" font-style="italic">&#948;</tspan><tspan x="67.1" y="239.6">=0.70%</tspan></text>
<text y="277.2" font-size="15.5" fill="#1a1a1a" stroke="#1a1a1a" stroke-width="0.12"><tspan x="59.0" font-style="italic">&#956;</tspan><tspan x="67.3" y="282.4" font-size="10.5" font-style="italic">&#948;</tspan><tspan x="72.2" y="277.2">=6.16%</tspan></text>
<text y="300.2" font-size="15.5" fill="#1a1a1a" stroke="#1a1a1a" stroke-width="0.12"><tspan x="59.2" font-style="italic">&#963;</tspan><tspan x="67.5" y="305.4" font-size="10.5" font-style="italic">&#948;</tspan><tspan x="72.4" y="300.2">=0.72%</tspan></text>
<text y="341.6" font-size="15.5" fill="#1a1a1a" stroke="#1a1a1a" stroke-width="0.12"><tspan x="60.3" font-style="italic">&#956;</tspan><tspan x="68.6" y="346.8" font-size="10.5" font-style="italic">&#948;</tspan><tspan x="73.5" y="341.6">=6.18%</tspan></text>
<text y="363.9" font-size="15.5" fill="#1a1a1a" stroke="#1a1a1a" stroke-width="0.12"><tspan x="60.8" font-style="italic">&#963;</tspan><tspan x="69.1" y="369.1" font-size="10.5" font-style="italic">&#948;</tspan><tspan x="74.0" y="363.9">=0.67%</tspan></text>
<rect x="567" y="63.1" width="4.3" height="1.1" fill="#00ffff" stroke="#555" stroke-width="0.75"/>
<rect x="571.3" y="57.8" width="4.8" height="6.4" fill="#00ffff" stroke="#555" stroke-width="0.75"/>
<rect x="576.1" y="50.2" width="4.7" height="14" fill="#00ffff" stroke="#555" stroke-width="0.75"/>
<rect x="580.8" y="40.9" width="4.7" height="23.3" fill="#00ffff" stroke="#555" stroke-width="0.75"/>
<rect x="585.5" y="28.6" width="5.1" height="35.6" fill="#00ffff" stroke="#555" stroke-width="0.75"/>
<rect x="590.6" y="30.9" width="5" height="33.3" fill="#00ffff" stroke="#555" stroke-width="0.75"/>
<rect x="595.6" y="31.5" width="4.7" height="32.7" fill="#00ffff" stroke="#555" stroke-width="0.75"/>
<rect x="600.3" y="40.9" width="4.9" height="23.3" fill="#00ffff" stroke="#555" stroke-width="0.75"/>
<rect x="605.2" y="47.6" width="5" height="16.6" fill="#00ffff" stroke="#555" stroke-width="0.75"/>
<rect x="610.2" y="52.8" width="5" height="11.4" fill="#00ffff" stroke="#555" stroke-width="0.75"/>
<rect x="615.2" y="59.8" width="4.6" height="4.4" fill="#00ffff" stroke="#555" stroke-width="0.75"/>
<rect x="619.8" y="59" width="4.7" height="5.2" fill="#00ffff" stroke="#555" stroke-width="0.75"/>
<rect x="634.1" y="62" width="5.4" height="2.2" fill="#00ffff" stroke="#555" stroke-width="0.75"/>
<polyline points="549.6,64.2 550.7,64.2 551.8,64.2 553.0,64.1 554.1,64.1 555.2,64.1 556.4,64.0 557.5,64.0 558.6,63.9 559.8,63.8 560.9,63.6 562.1,63.5 563.2,63.2 564.3,63.0 565.5,62.6 566.6,62.2 567.7,61.7 568.9,61.1 570.0,60.5 571.1,59.7 572.3,58.7 573.4,57.7 574.6,56.5 575.7,55.2 576.8,53.7 578.0,52.2 579.1,50.5 580.2,48.7 581.4,46.9 582.5,45.0 583.6,43.1 584.8,41.2 585.9,39.3 587.0,37.6 588.2,36.0 589.3,34.5 590.5,33.3 591.6,32.3 592.7,31.6 593.9,31.1 595.0,31.0 596.1,31.1 597.3,31.6 598.4,32.3 599.5,33.3 600.7,34.5 601.8,36.0 603.0,37.6 604.1,39.3 605.2,41.2 606.4,43.1 607.5,45.0 608.6,46.9 609.8,48.7 610.9,50.5 612.0,52.2 613.2,53.7 614.3,55.2 615.4,56.5 616.6,57.7 617.7,58.7 618.9,59.7 620.0,60.5 621.1,61.1 622.3,61.7 623.4,62.2 624.5,62.6 625.7,63.0 626.8,63.2 627.9,63.5 629.1,63.6 630.2,63.8 631.4,63.9 632.5,64.0 633.6,64.0 634.8,64.1 635.9,64.1 637.0,64.1 638.2,64.2 639.3,64.2 640.4,64.2" fill="none" stroke="#222" stroke-width="0.8"/>
<line x1="595" y1="1.6" x2="595" y2="64.2" stroke="#ff0000" stroke-opacity="0.82" stroke-width="1.5"/>
<rect x="521.7" y="122.6" width="5.6" height="3.9" fill="#fac898" stroke="#555" stroke-width="0.75"/>
<rect x="527.3" y="121.4" width="5.1" height="5.1" fill="#fac898" stroke="#555" stroke-width="0.75"/>
<rect x="532.4" y="110.9" width="5" height="15.6" fill="#fac898" stroke="#555" stroke-width="0.75"/>
<rect x="537.4" y="89" width="5.1" height="37.5" fill="#fac898" stroke="#555" stroke-width="0.75"/>
<rect x="542.5" y="93.4" width="4.9" height="33.1" fill="#fac898" stroke="#555" stroke-width="0.75"/>
<rect x="547.4" y="92.2" width="5" height="34.3" fill="#fac898" stroke="#555" stroke-width="0.75"/>
<rect x="552.4" y="93.9" width="5.2" height="32.6" fill="#fac898" stroke="#555" stroke-width="0.75"/>
<rect x="557.6" y="103.9" width="5.5" height="22.6" fill="#fac898" stroke="#555" stroke-width="0.75"/>
<rect x="563.1" y="114.1" width="5.3" height="12.4" fill="#fac898" stroke="#555" stroke-width="0.75"/>
<rect x="568.4" y="119.3" width="5.2" height="7.2" fill="#fac898" stroke="#555" stroke-width="0.75"/>
<rect x="573.6" y="125" width="5.6" height="1.5" fill="#fac898" stroke="#555" stroke-width="0.75"/>
<rect x="584.7" y="125.3" width="5.3" height="1.2" fill="#fac898" stroke="#555" stroke-width="0.75"/>
<polyline points="505.7,126.5 506.8,126.5 507.9,126.4 508.9,126.4 510.0,126.4 511.1,126.4 512.2,126.3 513.3,126.2 514.4,126.1 515.5,126.0 516.6,125.9 517.7,125.7 518.8,125.4 519.9,125.1 520.9,124.7 522.0,124.3 523.1,123.7 524.2,123.1 525.3,122.3 526.4,121.4 527.5,120.4 528.6,119.2 529.7,117.9 530.8,116.4 531.9,114.8 532.9,113.0 534.0,111.1 535.1,109.1 536.2,107.1 537.3,105.0 538.4,102.8 539.5,100.7 540.6,98.6 541.7,96.7 542.8,94.9 543.8,93.3 544.9,91.9 546.0,90.8 547.1,90.0 548.2,89.5 549.3,89.3 550.4,89.5 551.5,90.0 552.6,90.8 553.7,91.9 554.8,93.3 555.8,94.9 556.9,96.7 558.0,98.6 559.1,100.7 560.2,102.8 561.3,105.0 562.4,107.1 563.5,109.1 564.6,111.1 565.7,113.0 566.7,114.8 567.8,116.4 568.9,117.9 570.0,119.2 571.1,120.4 572.2,121.4 573.3,122.3 574.4,123.1 575.5,123.7 576.6,124.3 577.7,124.7 578.7,125.1 579.8,125.4 580.9,125.7 582.0,125.9 583.1,126.0 584.2,126.1 585.3,126.2 586.4,126.3 587.5,126.4 588.6,126.4 589.7,126.4 590.7,126.4 591.8,126.5 592.9,126.5" fill="none" stroke="#222" stroke-width="0.8"/>
<line x1="549.3" y1="64.2" x2="549.3" y2="126.5" stroke="#ff0000" stroke-opacity="0.82" stroke-width="1.5"/>
<rect x="475.3" y="187.3" width="5.8" height="1.7" fill="#0568aa" stroke="#555" stroke-width="0.75"/>
<rect x="481.1" y="175.9" width="6.2" height="13.1" fill="#0568aa" stroke="#555" stroke-width="0.75"/>
<rect x="487.3" y="161.3" width="5.8" height="27.7" fill="#0568aa" stroke="#555" stroke-width="0.75"/>
<rect x="493.1" y="135.9" width="6.1" height="53.1" fill="#0568aa" stroke="#555" stroke-width="0.75"/>
<rect x="499.2" y="153.1" width="5.8" height="35.9" fill="#0568aa" stroke="#555" stroke-width="0.75"/>
<rect x="505" y="147.3" width="6.5" height="41.7" fill="#0568aa" stroke="#555" stroke-width="0.75"/>
<rect x="511.5" y="174.7" width="6.4" height="14.3" fill="#0568aa" stroke="#555" stroke-width="0.75"/>
<rect x="517.9" y="180" width="6.1" height="9" fill="#0568aa" stroke="#555" stroke-width="0.75"/>
<rect x="524" y="182" width="6.1" height="7" fill="#0568aa" stroke="#555" stroke-width="0.75"/>
<rect x="530.1" y="187.8" width="5.3" height="1.2" fill="#0568aa" stroke="#555" stroke-width="0.75"/>
<rect x="535.4" y="188.2" width="5.8" height="0.8" fill="#0568aa" stroke="#555" stroke-width="0.75"/>
<rect x="561.4" y="187.6" width="4.9" height="1.4" fill="#0568aa" stroke="#555" stroke-width="0.75"/>
<polyline points="456.1,189.0 457.2,189.0 458.3,188.9 459.5,188.9 460.6,188.9 461.7,188.8 462.9,188.8 464.0,188.7 465.1,188.6 466.3,188.4 467.4,188.3 468.6,188.0 469.7,187.8 470.8,187.4 472.0,187.0 473.1,186.5 474.2,185.9 475.4,185.1 476.5,184.2 477.6,183.2 478.8,182.0 479.9,180.7 481.1,179.2 482.2,177.5 483.3,175.7 484.5,173.7 485.6,171.5 486.7,169.3 487.9,166.9 489.0,164.5 490.1,162.1 491.3,159.7 492.4,157.3 493.5,155.1 494.7,153.0 495.8,151.2 497.0,149.6 498.1,148.4 499.2,147.5 500.4,146.9 501.5,146.7 502.6,146.9 503.8,147.5 504.9,148.4 506.0,149.6 507.2,151.2 508.3,153.0 509.5,155.1 510.6,157.3 511.7,159.7 512.9,162.1 514.0,164.5 515.1,166.9 516.3,169.3 517.4,171.5 518.5,173.7 519.7,175.7 520.8,177.5 521.9,179.2 523.1,180.7 524.2,182.0 525.4,183.2 526.5,184.2 527.6,185.1 528.8,185.9 529.9,186.5 531.0,187.0 532.2,187.4 533.3,187.8 534.4,188.0 535.6,188.3 536.7,188.4 537.9,188.6 539.0,188.7 540.1,188.8 541.3,188.8 542.4,188.9 543.5,188.9 544.7,188.9 545.8,189.0 546.9,189.0" fill="none" stroke="#222" stroke-width="0.8"/>
<line x1="501.5" y1="126.5" x2="501.5" y2="189" stroke="#ff0000" stroke-opacity="0.82" stroke-width="1.5"/>
<rect x="428.2" y="251" width="4.6" height="0.3" fill="#a3e635" stroke="#555" stroke-width="0.75"/>
<rect x="438.1" y="231.8" width="5" height="19.5" fill="#a3e635" stroke="#555" stroke-width="0.75"/>
<rect x="443.1" y="223.5" width="4.9" height="27.8" fill="#a3e635" stroke="#555" stroke-width="0.75"/>
<rect x="448" y="215.3" width="5.3" height="36" fill="#a3e635" stroke="#555" stroke-width="0.75"/>
<rect x="453.3" y="210.4" width="5" height="40.9" fill="#a3e635" stroke="#555" stroke-width="0.75"/>
<rect x="458.3" y="219.2" width="4.9" height="32.1" fill="#a3e635" stroke="#555" stroke-width="0.75"/>
<rect x="463.2" y="235.5" width="5.3" height="15.8" fill="#a3e635" stroke="#555" stroke-width="0.75"/>
<rect x="468.5" y="239.1" width="5" height="12.2" fill="#a3e635" stroke="#555" stroke-width="0.75"/>
<rect x="473.5" y="244.3" width="4.9" height="7" fill="#a3e635" stroke="#555" stroke-width="0.75"/>
<rect x="478.4" y="246.6" width="4.7" height="4.7" fill="#a3e635" stroke="#555" stroke-width="0.75"/>
<rect x="483.1" y="247.5" width="4.6" height="3.8" fill="#a3e635" stroke="#555" stroke-width="0.75"/>
<rect x="487.7" y="249.8" width="4.7" height="1.5" fill="#a3e635" stroke="#555" stroke-width="0.75"/>
<polyline points="410.7,251.3 411.8,251.3 412.9,251.2 414.1,251.2 415.2,251.2 416.3,251.2 417.5,251.1 418.6,251.0 419.7,251.0 420.9,250.9 422.0,250.7 423.2,250.5 424.3,250.3 425.4,250.0 426.6,249.7 427.7,249.3 428.8,248.8 430.0,248.2 431.1,247.4 432.2,246.6 433.4,245.7 434.5,244.6 435.7,243.4 436.8,242.0 437.9,240.5 439.1,238.9 440.2,237.2 441.3,235.3 442.5,233.4 443.6,231.5 444.7,229.5 445.9,227.6 447.0,225.7 448.1,223.9 449.3,222.2 450.4,220.7 451.6,219.5 452.7,218.5 453.8,217.7 455.0,217.3 456.1,217.1 457.2,217.3 458.4,217.7 459.5,218.5 460.6,219.5 461.8,220.7 462.9,222.2 464.1,223.9 465.2,225.7 466.3,227.6 467.5,229.5 468.6,231.5 469.7,233.4 470.9,235.3 472.0,237.2 473.1,238.9 474.3,240.5 475.4,242.0 476.5,243.4 477.7,244.6 478.8,245.7 480.0,246.6 481.1,247.4 482.2,248.2 483.4,248.8 484.5,249.3 485.6,249.7 486.8,250.0 487.9,250.3 489.0,250.5 490.2,250.7 491.3,250.9 492.5,251.0 493.6,251.0 494.7,251.1 495.9,251.2 497.0,251.2 498.1,251.2 499.3,251.2 500.4,251.3 501.5,251.3" fill="none" stroke="#222" stroke-width="0.8"/>
<line x1="456.1" y1="189" x2="456.1" y2="251.3" stroke="#ff0000" stroke-opacity="0.82" stroke-width="1.5"/>
<rect x="401.4" y="305.5" width="6.3" height="8.1" fill="#fc7dc3" stroke="#555" stroke-width="0.75"/>
<rect x="407.7" y="309.2" width="5.9" height="4.4" fill="#fc7dc3" stroke="#555" stroke-width="0.75"/>
<rect x="413.6" y="297.3" width="5.6" height="16.3" fill="#fc7dc3" stroke="#555" stroke-width="0.75"/>
<rect x="419.2" y="279.3" width="6.3" height="34.3" fill="#fc7dc3" stroke="#555" stroke-width="0.75"/>
<rect x="425.5" y="285.9" width="5.2" height="27.7" fill="#fc7dc3" stroke="#555" stroke-width="0.75"/>
<rect x="430.7" y="288.1" width="6.2" height="25.5" fill="#fc7dc3" stroke="#555" stroke-width="0.75"/>
<rect x="436.9" y="285.9" width="6.3" height="27.7" fill="#fc7dc3" stroke="#555" stroke-width="0.75"/>
<rect x="443.2" y="293.4" width="5.5" height="20.2" fill="#fc7dc3" stroke="#555" stroke-width="0.75"/>
<rect x="448.7" y="299.6" width="6.3" height="14" fill="#fc7dc3" stroke="#555" stroke-width="0.75"/>
<rect x="455" y="299.3" width="6" height="14.3" fill="#fc7dc3" stroke="#555" stroke-width="0.75"/>
<rect x="461" y="307.8" width="5.5" height="5.8" fill="#fc7dc3" stroke="#555" stroke-width="0.75"/>
<rect x="466.5" y="311.8" width="5" height="1.8" fill="#fc7dc3" stroke="#555" stroke-width="0.75"/>
<rect x="471.5" y="312.4" width="7.8" height="1.2" fill="#fc7dc3" stroke="#555" stroke-width="0.75"/>
<rect x="485" y="312.6" width="6" height="1" fill="#fc7dc3" stroke="#555" stroke-width="0.75"/>
<polyline points="374.7,313.6 376.2,313.6 377.8,313.6 379.3,313.5 380.8,313.5 382.3,313.5 383.8,313.4 385.4,313.4 386.9,313.3 388.4,313.2 389.9,313.1 391.5,312.9 393.0,312.7 394.5,312.5 396.0,312.2 397.5,311.8 399.1,311.3 400.6,310.8 402.1,310.2 403.6,309.5 405.2,308.6 406.7,307.7 408.2,306.6 409.7,305.4 411.2,304.1 412.8,302.6 414.3,301.1 415.8,299.5 417.3,297.8 418.9,296.0 420.4,294.3 421.9,292.6 423.4,290.9 424.9,289.3 426.5,287.8 428.0,286.5 429.5,285.4 431.0,284.5 432.6,283.8 434.1,283.4 435.6,283.3 437.1,283.4 438.6,283.8 440.2,284.5 441.7,285.4 443.2,286.5 444.7,287.8 446.3,289.3 447.8,290.9 449.3,292.6 450.8,294.3 452.3,296.0 453.9,297.8 455.4,299.5 456.9,301.1 458.4,302.6 460.0,304.1 461.5,305.4 463.0,306.6 464.5,307.7 466.0,308.6 467.6,309.5 469.1,310.2 470.6,310.8 472.1,311.3 473.7,311.8 475.2,312.2 476.7,312.5 478.2,312.7 479.7,312.9 481.3,313.1 482.8,313.2 484.3,313.3 485.8,313.4 487.4,313.4 488.9,313.5 490.4,313.5 491.9,313.5 493.4,313.6 495.0,313.6 496.5,313.6" fill="none" stroke="#222" stroke-width="0.8"/>
<line x1="435.6" y1="251.3" x2="435.6" y2="313.6" stroke="#ff0000" stroke-opacity="0.82" stroke-width="1.5"/>
<rect x="399.9" y="373.5" width="6.5" height="2.6" fill="#c3c3c3" stroke="#555" stroke-width="0.75"/>
<rect x="406.4" y="363.6" width="6.2" height="12.5" fill="#c3c3c3" stroke="#555" stroke-width="0.75"/>
<rect x="412.6" y="363.9" width="6.6" height="12.2" fill="#c3c3c3" stroke="#555" stroke-width="0.75"/>
<rect x="419.2" y="347.2" width="6.3" height="28.9" fill="#c3c3c3" stroke="#555" stroke-width="0.75"/>
<rect x="425.5" y="341" width="6.3" height="35.1" fill="#c3c3c3" stroke="#555" stroke-width="0.75"/>
<rect x="431.8" y="342.2" width="6.6" height="33.9" fill="#c3c3c3" stroke="#555" stroke-width="0.75"/>
<rect x="438.4" y="353.1" width="6.1" height="23" fill="#c3c3c3" stroke="#555" stroke-width="0.75"/>
<rect x="444.5" y="355.3" width="6.2" height="20.8" fill="#c3c3c3" stroke="#555" stroke-width="0.75"/>
<rect x="450.7" y="358.4" width="6.6" height="17.7" fill="#c3c3c3" stroke="#555" stroke-width="0.75"/>
<rect x="457.3" y="373.2" width="6.3" height="2.9" fill="#c3c3c3" stroke="#555" stroke-width="0.75"/>
<rect x="463.6" y="369.1" width="6.3" height="7" fill="#c3c3c3" stroke="#555" stroke-width="0.75"/>
<rect x="469.9" y="371.1" width="6.2" height="5" fill="#c3c3c3" stroke="#555" stroke-width="0.75"/>
<polyline points="374.7,376.1 376.2,376.1 377.8,376.1 379.3,376.0 380.8,376.0 382.3,376.0 383.8,375.9 385.4,375.9 386.9,375.8 388.4,375.7 389.9,375.6 391.5,375.4 393.0,375.2 394.5,375.0 396.0,374.7 397.5,374.3 399.1,373.8 400.6,373.3 402.1,372.7 403.6,371.9 405.2,371.1 406.7,370.1 408.2,369.0 409.7,367.8 411.2,366.5 412.8,365.0 414.3,363.5 415.8,361.8 417.3,360.1 418.9,358.4 420.4,356.6 421.9,354.9 423.4,353.2 424.9,351.6 426.5,350.1 428.0,348.8 429.5,347.6 431.0,346.7 432.6,346.0 434.1,345.6 435.6,345.5 437.1,345.6 438.6,346.0 440.2,346.7 441.7,347.6 443.2,348.8 444.7,350.1 446.3,351.6 447.8,353.2 449.3,354.9 450.8,356.6 452.3,358.4 453.9,360.1 455.4,361.8 456.9,363.5 458.4,365.0 460.0,366.5 461.5,367.8 463.0,369.0 464.5,370.1 466.0,371.1 467.6,371.9 469.1,372.7 470.6,373.3 472.1,373.8 473.7,374.3 475.2,374.7 476.7,375.0 478.2,375.2 479.7,375.4 481.3,375.6 482.8,375.7 484.3,375.8 485.8,375.9 487.4,375.9 488.9,376.0 490.4,376.0 491.9,376.0 493.4,376.1 495.0,376.1 496.5,376.1" fill="none" stroke="#222" stroke-width="0.8"/>
<line x1="435.6" y1="313.6" x2="435.6" y2="376.1" stroke="#ff0000" stroke-opacity="0.82" stroke-width="1.5"/>
<rect x="383.5" y="1.6" width="287.0" height="374.5" fill="none" stroke="#5e5e5e" stroke-width="1.3"/>
<line x1="383.5" y1="64.2" x2="670.5" y2="64.2" stroke="#5e5e5e" stroke-width="1.3"/>
<line x1="383.5" y1="126.5" x2="670.5" y2="126.5" stroke="#5e5e5e" stroke-width="1.3"/>
<line x1="383.5" y1="189.0" x2="670.5" y2="189.0" stroke="#5e5e5e" stroke-width="1.3"/>
<line x1="383.5" y1="251.3" x2="670.5" y2="251.3" stroke="#5e5e5e" stroke-width="1.3"/>
<line x1="383.5" y1="313.6" x2="670.5" y2="313.6" stroke="#5e5e5e" stroke-width="1.3"/>
<line x1="379.2" y1="64.2" x2="383.5" y2="64.2" stroke="#5e5e5e" stroke-width="0.9"/>
<line x1="381.3" y1="51.2" x2="383.5" y2="51.2" stroke="#5e5e5e" stroke-width="0.9"/>
<line x1="379.2" y1="38.1" x2="383.5" y2="38.1" stroke="#5e5e5e" stroke-width="0.9"/>
<line x1="381.3" y1="25.1" x2="383.5" y2="25.1" stroke="#5e5e5e" stroke-width="0.9"/>
<line x1="379.2" y1="12.0" x2="383.5" y2="12.0" stroke="#5e5e5e" stroke-width="0.9"/>
<line x1="383.5" y1="64.2" x2="383.5" y2="67.4" stroke="#5e5e5e" stroke-width="1.0"/>
<line x1="407.4" y1="64.2" x2="407.4" y2="66.2" stroke="#5e5e5e" stroke-width="1.0"/>
<line x1="431.3" y1="64.2" x2="431.3" y2="67.4" stroke="#5e5e5e" stroke-width="1.0"/>
<line x1="455.2" y1="64.2" x2="455.2" y2="66.2" stroke="#5e5e5e" stroke-width="1.0"/>
<line x1="479.2" y1="64.2" x2="479.2" y2="67.4" stroke="#5e5e5e" stroke-width="1.0"/>
<line x1="503.1" y1="64.2" x2="503.1" y2="66.2" stroke="#5e5e5e" stroke-width="1.0"/>
<line x1="527.0" y1="64.2" x2="527.0" y2="67.4" stroke="#5e5e5e" stroke-width="1.0"/>
<line x1="550.9" y1="64.2" x2="550.9" y2="66.2" stroke="#5e5e5e" stroke-width="1.0"/>
<line x1="574.8" y1="64.2" x2="574.8" y2="67.4" stroke="#5e5e5e" stroke-width="1.0"/>
<line x1="598.8" y1="64.2" x2="598.8" y2="66.2" stroke="#5e5e5e" stroke-width="1.0"/>
<line x1="622.7" y1="64.2" x2="622.7" y2="67.4" stroke="#5e5e5e" stroke-width="1.0"/>
<line x1="646.6" y1="64.2" x2="646.6" y2="66.2" stroke="#5e5e5e" stroke-width="1.0"/>
<line x1="670.5" y1="64.2" x2="670.5" y2="67.4" stroke="#5e5e5e" stroke-width="1.0"/>
<line x1="379.2" y1="126.5" x2="383.5" y2="126.5" stroke="#5e5e5e" stroke-width="0.9"/>
<line x1="381.3" y1="113.5" x2="383.5" y2="113.5" stroke="#5e5e5e" stroke-width="0.9"/>
<line x1="379.2" y1="100.4" x2="383.5" y2="100.4" stroke="#5e5e5e" stroke-width="0.9"/>
<line x1="381.3" y1="87.3" x2="383.5" y2="87.3" stroke="#5e5e5e" stroke-width="0.9"/>
<line x1="379.2" y1="74.3" x2="383.5" y2="74.3" stroke="#5e5e5e" stroke-width="0.9"/>
<line x1="383.5" y1="126.5" x2="383.5" y2="129.7" stroke="#5e5e5e" stroke-width="1.0"/>
<line x1="407.4" y1="126.5" x2="407.4" y2="128.5" stroke="#5e5e5e" stroke-width="1.0"/>
<line x1="431.3" y1="126.5" x2="431.3" y2="129.7" stroke="#5e5e5e" stroke-width="1.0"/>
<line x1="455.2" y1="126.5" x2="455.2" y2="128.5" stroke="#5e5e5e" stroke-width="1.0"/>
<line x1="479.2" y1="126.5" x2="479.2" y2="129.7" stroke="#5e5e5e" stroke-width="1.0"/>
<line x1="503.1" y1="126.5" x2="503.1" y2="128.5" stroke="#5e5e5e" stroke-width="1.0"/>
<line x1="527.0" y1="126.5" x2="527.0" y2="129.7" stroke="#5e5e5e" stroke-width="1.0"/>
<line x1="550.9" y1="126.5" x2="550.9" y2="128.5" stroke="#5e5e5e" stroke-width="1.0"/>
<line x1="574.8" y1="126.5" x2="574.8" y2="129.7" stroke="#5e5e5e" stroke-width="1.0"/>
<line x1="598.8" y1="126.5" x2="598.8" y2="128.5" stroke="#5e5e5e" stroke-width="1.0"/>
<line x1="622.7" y1="126.5" x2="622.7" y2="129.7" stroke="#5e5e5e" stroke-width="1.0"/>
<line x1="646.6" y1="126.5" x2="646.6" y2="128.5" stroke="#5e5e5e" stroke-width="1.0"/>
<line x1="670.5" y1="126.5" x2="670.5" y2="129.7" stroke="#5e5e5e" stroke-width="1.0"/>
<line x1="379.2" y1="189.0" x2="383.5" y2="189.0" stroke="#5e5e5e" stroke-width="0.9"/>
<line x1="381.3" y1="175.9" x2="383.5" y2="175.9" stroke="#5e5e5e" stroke-width="0.9"/>
<line x1="379.2" y1="162.9" x2="383.5" y2="162.9" stroke="#5e5e5e" stroke-width="0.9"/>
<line x1="381.3" y1="149.8" x2="383.5" y2="149.8" stroke="#5e5e5e" stroke-width="0.9"/>
<line x1="379.2" y1="136.8" x2="383.5" y2="136.8" stroke="#5e5e5e" stroke-width="0.9"/>
<line x1="383.5" y1="189.0" x2="383.5" y2="192.2" stroke="#5e5e5e" stroke-width="1.0"/>
<line x1="407.4" y1="189.0" x2="407.4" y2="191.0" stroke="#5e5e5e" stroke-width="1.0"/>
<line x1="431.3" y1="189.0" x2="431.3" y2="192.2" stroke="#5e5e5e" stroke-width="1.0"/>
<line x1="455.2" y1="189.0" x2="455.2" y2="191.0" stroke="#5e5e5e" stroke-width="1.0"/>
<line x1="479.2" y1="189.0" x2="479.2" y2="192.2" stroke="#5e5e5e" stroke-width="1.0"/>
<line x1="503.1" y1="189.0" x2="503.1" y2="191.0" stroke="#5e5e5e" stroke-width="1.0"/>
<line x1="527.0" y1="189.0" x2="527.0" y2="192.2" stroke="#5e5e5e" stroke-width="1.0"/>
<line x1="550.9" y1="189.0" x2="550.9" y2="191.0" stroke="#5e5e5e" stroke-width="1.0"/>
<line x1="574.8" y1="189.0" x2="574.8" y2="192.2" stroke="#5e5e5e" stroke-width="1.0"/>
<line x1="598.8" y1="189.0" x2="598.8" y2="191.0" stroke="#5e5e5e" stroke-width="1.0"/>
<line x1="622.7" y1="189.0" x2="622.7" y2="192.2" stroke="#5e5e5e" stroke-width="1.0"/>
<line x1="646.6" y1="189.0" x2="646.6" y2="191.0" stroke="#5e5e5e" stroke-width="1.0"/>
<line x1="670.5" y1="189.0" x2="670.5" y2="192.2" stroke="#5e5e5e" stroke-width="1.0"/>
<line x1="379.2" y1="251.3" x2="383.5" y2="251.3" stroke="#5e5e5e" stroke-width="0.9"/>
<line x1="381.3" y1="238.2" x2="383.5" y2="238.2" stroke="#5e5e5e" stroke-width="0.9"/>
<line x1="379.2" y1="225.2" x2="383.5" y2="225.2" stroke="#5e5e5e" stroke-width="0.9"/>
<line x1="381.3" y1="212.2" x2="383.5" y2="212.2" stroke="#5e5e5e" stroke-width="0.9"/>
<line x1="379.2" y1="199.1" x2="383.5" y2="199.1" stroke="#5e5e5e" stroke-width="0.9"/>
<line x1="383.5" y1="251.3" x2="383.5" y2="254.5" stroke="#5e5e5e" stroke-width="1.0"/>
<line x1="407.4" y1="251.3" x2="407.4" y2="253.3" stroke="#5e5e5e" stroke-width="1.0"/>
<line x1="431.3" y1="251.3" x2="431.3" y2="254.5" stroke="#5e5e5e" stroke-width="1.0"/>
<line x1="455.2" y1="251.3" x2="455.2" y2="253.3" stroke="#5e5e5e" stroke-width="1.0"/>
<line x1="479.2" y1="251.3" x2="479.2" y2="254.5" stroke="#5e5e5e" stroke-width="1.0"/>
<line x1="503.1" y1="251.3" x2="503.1" y2="253.3" stroke="#5e5e5e" stroke-width="1.0"/>
<line x1="527.0" y1="251.3" x2="527.0" y2="254.5" stroke="#5e5e5e" stroke-width="1.0"/>
<line x1="550.9" y1="251.3" x2="550.9" y2="253.3" stroke="#5e5e5e" stroke-width="1.0"/>
<line x1="574.8" y1="251.3" x2="574.8" y2="254.5" stroke="#5e5e5e" stroke-width="1.0"/>
<line x1="598.8" y1="251.3" x2="598.8" y2="253.3" stroke="#5e5e5e" stroke-width="1.0"/>
<line x1="622.7" y1="251.3" x2="622.7" y2="254.5" stroke="#5e5e5e" stroke-width="1.0"/>
<line x1="646.6" y1="251.3" x2="646.6" y2="253.3" stroke="#5e5e5e" stroke-width="1.0"/>
<line x1="670.5" y1="251.3" x2="670.5" y2="254.5" stroke="#5e5e5e" stroke-width="1.0"/>
<line x1="379.2" y1="313.6" x2="383.5" y2="313.6" stroke="#5e5e5e" stroke-width="0.9"/>
<line x1="381.3" y1="300.6" x2="383.5" y2="300.6" stroke="#5e5e5e" stroke-width="0.9"/>
<line x1="379.2" y1="287.5" x2="383.5" y2="287.5" stroke="#5e5e5e" stroke-width="0.9"/>
<line x1="381.3" y1="274.5" x2="383.5" y2="274.5" stroke="#5e5e5e" stroke-width="0.9"/>
<line x1="379.2" y1="261.4" x2="383.5" y2="261.4" stroke="#5e5e5e" stroke-width="0.9"/>
<line x1="383.5" y1="313.6" x2="383.5" y2="316.8" stroke="#5e5e5e" stroke-width="1.0"/>
<line x1="407.4" y1="313.6" x2="407.4" y2="315.6" stroke="#5e5e5e" stroke-width="1.0"/>
<line x1="431.3" y1="313.6" x2="431.3" y2="316.8" stroke="#5e5e5e" stroke-width="1.0"/>
<line x1="455.2" y1="313.6" x2="455.2" y2="315.6" stroke="#5e5e5e" stroke-width="1.0"/>
<line x1="479.2" y1="313.6" x2="479.2" y2="316.8" stroke="#5e5e5e" stroke-width="1.0"/>
<line x1="503.1" y1="313.6" x2="503.1" y2="315.6" stroke="#5e5e5e" stroke-width="1.0"/>
<line x1="527.0" y1="313.6" x2="527.0" y2="316.8" stroke="#5e5e5e" stroke-width="1.0"/>
<line x1="550.9" y1="313.6" x2="550.9" y2="315.6" stroke="#5e5e5e" stroke-width="1.0"/>
<line x1="574.8" y1="313.6" x2="574.8" y2="316.8" stroke="#5e5e5e" stroke-width="1.0"/>
<line x1="598.8" y1="313.6" x2="598.8" y2="315.6" stroke="#5e5e5e" stroke-width="1.0"/>
<line x1="622.7" y1="313.6" x2="622.7" y2="316.8" stroke="#5e5e5e" stroke-width="1.0"/>
<line x1="646.6" y1="313.6" x2="646.6" y2="315.6" stroke="#5e5e5e" stroke-width="1.0"/>
<line x1="670.5" y1="313.6" x2="670.5" y2="316.8" stroke="#5e5e5e" stroke-width="1.0"/>
<line x1="379.2" y1="376.1" x2="383.5" y2="376.1" stroke="#5e5e5e" stroke-width="0.9"/>
<line x1="381.3" y1="363.1" x2="383.5" y2="363.1" stroke="#5e5e5e" stroke-width="0.9"/>
<line x1="379.2" y1="350.0" x2="383.5" y2="350.0" stroke="#5e5e5e" stroke-width="0.9"/>
<line x1="381.3" y1="337.0" x2="383.5" y2="337.0" stroke="#5e5e5e" stroke-width="0.9"/>
<line x1="379.2" y1="323.9" x2="383.5" y2="323.9" stroke="#5e5e5e" stroke-width="0.9"/>
<line x1="383.5" y1="376.1" x2="383.5" y2="379.3" stroke="#5e5e5e" stroke-width="1.0"/>
<line x1="407.4" y1="376.1" x2="407.4" y2="378.1" stroke="#5e5e5e" stroke-width="1.0"/>
<line x1="431.3" y1="376.1" x2="431.3" y2="379.3" stroke="#5e5e5e" stroke-width="1.0"/>
<line x1="455.2" y1="376.1" x2="455.2" y2="378.1" stroke="#5e5e5e" stroke-width="1.0"/>
<line x1="479.2" y1="376.1" x2="479.2" y2="379.3" stroke="#5e5e5e" stroke-width="1.0"/>
<line x1="503.1" y1="376.1" x2="503.1" y2="378.1" stroke="#5e5e5e" stroke-width="1.0"/>
<line x1="527.0" y1="376.1" x2="527.0" y2="379.3" stroke="#5e5e5e" stroke-width="1.0"/>
<line x1="550.9" y1="376.1" x2="550.9" y2="378.1" stroke="#5e5e5e" stroke-width="1.0"/>
<line x1="574.8" y1="376.1" x2="574.8" y2="379.3" stroke="#5e5e5e" stroke-width="1.0"/>
<line x1="598.8" y1="376.1" x2="598.8" y2="378.1" stroke="#5e5e5e" stroke-width="1.0"/>
<line x1="622.7" y1="376.1" x2="622.7" y2="379.3" stroke="#5e5e5e" stroke-width="1.0"/>
<line x1="646.6" y1="376.1" x2="646.6" y2="378.1" stroke="#5e5e5e" stroke-width="1.0"/>
<line x1="670.5" y1="376.1" x2="670.5" y2="379.3" stroke="#5e5e5e" stroke-width="1.0"/>
<text x="0" y="0" font-size="15" text-anchor="end" transform="translate(378.8,67.0) rotate(-20)" fill="#1a1a1a" stroke="#1a1a1a" stroke-width="0.15">0</text>
<text x="0" y="0" font-size="15" text-anchor="end" transform="translate(378.8,40.9) rotate(-20)" fill="#1a1a1a" stroke="#1a1a1a" stroke-width="0.15">25</text>
<text x="0" y="0" font-size="15" text-anchor="end" transform="translate(378.8,14.8) rotate(-20)" fill="#1a1a1a" stroke="#1a1a1a" stroke-width="0.15">50</text>
<text x="0" y="0" font-size="16" text-anchor="middle" transform="translate(355.2,32.9) rotate(-90)" fill="#1a1a1a" stroke="#1a1a1a" stroke-width="0.15">d=10cm</text>
<text x="0" y="0" font-size="15" text-anchor="end" transform="translate(378.8,129.3) rotate(-20)" fill="#1a1a1a" stroke="#1a1a1a" stroke-width="0.15">0</text>
<text x="0" y="0" font-size="15" text-anchor="end" transform="translate(378.8,103.2) rotate(-20)" fill="#1a1a1a" stroke="#1a1a1a" stroke-width="0.15">25</text>
<text x="0" y="0" font-size="15" text-anchor="end" transform="translate(378.8,77.1) rotate(-20)" fill="#1a1a1a" stroke="#1a1a1a" stroke-width="0.15">50</text>
<text x="0" y="0" font-size="16" text-anchor="middle" transform="translate(355.2,95.3) rotate(-90)" fill="#1a1a1a" stroke="#1a1a1a" stroke-width="0.15">d=8cm</text>
<text x="0" y="0" font-size="15" text-anchor="end" transform="translate(378.8,191.8) rotate(-20)" fill="#1a1a1a" stroke="#1a1a1a" stroke-width="0.15">0</text>
<text x="0" y="0" font-size="15" text-anchor="end" transform="translate(378.8,165.7) rotate(-20)" fill="#1a1a1a" stroke="#1a1a1a" stroke-width="0.15">25</text>
<text x="0" y="0" font-size="15" text-anchor="end" transform="translate(378.8,139.6) rotate(-20)" fill="#1a1a1a" stroke="#1a1a1a" stroke-width="0.15">50</text>
<text x="0" y="0" font-size="16" text-anchor="middle" transform="translate(355.2,157.8) rotate(-90)" fill="#1a1a1a" stroke="#1a1a1a" stroke-width="0.15">d=6cm</text>
<text x="0" y="0" font-size="15" text-anchor="end" transform="translate(378.8,254.1) rotate(-20)" fill="#1a1a1a" stroke="#1a1a1a" stroke-width="0.15">0</text>
<text x="0" y="0" font-size="15" text-anchor="end" transform="translate(378.8,228.0) rotate(-20)" fill="#1a1a1a" stroke="#1a1a1a" stroke-width="0.15">25</text>
<text x="0" y="0" font-size="15" text-anchor="end" transform="translate(378.8,201.9) rotate(-20)" fill="#1a1a1a" stroke="#1a1a1a" stroke-width="0.15">50</text>
<text x="0" y="0" font-size="16" text-anchor="middle" transform="translate(355.2,220.2) rotate(-90)" fill="#1a1a1a" stroke="#1a1a1a" stroke-width="0.15">d=4cm</text>
<text x="0" y="0" font-size="15" text-anchor="end" transform="translate(378.8,316.4) rotate(-20)" fill="#1a1a1a" stroke="#1a1a1a" stroke-width="0.15">0</text>
<text x="0" y="0" font-size="15" text-anchor="end" transform="translate(378.8,290.3) rotate(-20)" fill="#1a1a1a" stroke="#1a1a1a" stroke-width="0.15">25</text>
<text x="0" y="0" font-size="15" text-anchor="end" transform="translate(378.8,264.2) rotate(-20)" fill="#1a1a1a" stroke="#1a1a1a" stroke-width="0.15">50</text>
<text x="0" y="0" font-size="16" text-anchor="middle" transform="translate(355.2,282.5) rotate(-90)" fill="#1a1a1a" stroke="#1a1a1a" stroke-width="0.15">d=2cm</text>
<text x="0" y="0" font-size="15" text-anchor="end" transform="translate(378.8,378.9) rotate(-20)" fill="#1a1a1a" stroke="#1a1a1a" stroke-width="0.15">0</text>
<text x="0" y="0" font-size="15" text-anchor="end" transform="translate(378.8,352.8) rotate(-20)" fill="#1a1a1a" stroke="#1a1a1a" stroke-width="0.15">25</text>
<text x="0" y="0" font-size="15" text-anchor="end" transform="translate(378.8,326.7) rotate(-20)" fill="#1a1a1a" stroke="#1a1a1a" stroke-width="0.15">50</text>
<text x="0" y="0" font-size="16" text-anchor="middle" transform="translate(355.2,344.9) rotate(-90)" fill="#1a1a1a" stroke="#1a1a1a" stroke-width="0.15">d=0</text>
<text x="0" y="0" font-size="15" text-anchor="middle" transform="translate(383.5,394.1) rotate(-15)" fill="#1a1a1a" stroke="#1a1a1a" stroke-width="0.15">4%</text>
<text x="0" y="0" font-size="15" text-anchor="middle" transform="translate(431.3,394.1) rotate(-15)" fill="#1a1a1a" stroke="#1a1a1a" stroke-width="0.15">6%</text>
<text x="0" y="0" font-size="15" text-anchor="middle" transform="translate(479.2,394.1) rotate(-15)" fill="#1a1a1a" stroke="#1a1a1a" stroke-width="0.15">8%</text>
<text x="0" y="0" font-size="15" text-anchor="middle" transform="translate(527.0,394.1) rotate(-15)" fill="#1a1a1a" stroke="#1a1a1a" stroke-width="0.15">10%</text>
<text x="0" y="0" font-size="15" text-anchor="middle" transform="translate(574.8,394.1) rotate(-15)" fill="#1a1a1a" stroke="#1a1a1a" stroke-width="0.15">12%</text>
<text x="0" y="0" font-size="15" text-anchor="middle" transform="translate(622.7,394.1) rotate(-15)" fill="#1a1a1a" stroke="#1a1a1a" stroke-width="0.15">14%</text>
<text x="0" y="0" font-size="15" text-anchor="middle" transform="translate(670.5,394.1) rotate(-15)" fill="#1a1a1a" stroke="#1a1a1a" stroke-width="0.15">16%</text>
<text x="539.8" y="409.2" font-size="16" font-style="italic" text-anchor="middle" fill="#1a1a1a">&#948;</text>
<text x="669.0" y="19.5" font-size="17" text-anchor="end" fill="#1a1a1a" stroke="#1a1a1a" stroke-width="0.12">(b)</text>
<text y="27.7" font-size="15.5" fill="#1a1a1a" stroke="#1a1a1a" stroke-width="0.12"><tspan x="435.6" font-style="italic">&#956;</tspan><tspan x="443.9" y="32.9" font-size="10.5" font-style="italic">&#948;</tspan><tspan x="448.8" y="27.7">=12.85%</tspan></text>
<text y="50.6" font-size="15.5" fill="#1a1a1a" stroke="#1a1a1a" stroke-width="0.12"><tspan x="436.2" font-style="italic">&#963;</tspan><tspan x="444.5" y="55.8" font-size="10.5" font-style="italic">&#948;</tspan><tspan x="449.4" y="50.6">=0.50%</tspan></text>
<text y="90.4" font-size="15.5" fill="#1a1a1a" stroke="#1a1a1a" stroke-width="0.12"><tspan x="411.7" font-style="italic">&#956;</tspan><tspan x="420.0" y="95.6" font-size="10.5" font-style="italic">&#948;</tspan><tspan x="424.9" y="90.4">=10.94%</tspan></text>
<text y="113.3" font-size="15.5" fill="#1a1a1a" stroke="#1a1a1a" stroke-width="0.12"><tspan x="412.7" font-style="italic">&#963;</tspan><tspan x="421.0" y="118.5" font-size="10.5" font-style="italic">&#948;</tspan><tspan x="425.9" y="113.3">=0.48%</tspan></text>
<text y="152.7" font-size="15.5" fill="#1a1a1a" stroke="#1a1a1a" stroke-width="0.12"><tspan x="399.3" font-style="italic">&#956;</tspan><tspan x="407.6" y="157.9" font-size="10.5" font-style="italic">&#948;</tspan><tspan x="412.5" y="152.7">=8.96%</tspan></text>
<text y="173.6" font-size="15.5" fill="#1a1a1a" stroke="#1a1a1a" stroke-width="0.12"><tspan x="399.9" font-style="italic">&#963;</tspan><tspan x="408.2" y="178.8" font-size="10.5" font-style="italic">&#948;</tspan><tspan x="413.1" y="173.6">=0.50%</tspan></text>
<text y="218.5" font-size="15.5" fill="#1a1a1a" stroke="#1a1a1a" stroke-width="0.12"><tspan x="531.6" font-style="italic">&#956;</tspan><tspan x="539.9" y="223.7" font-size="10.5" font-style="italic">&#948;</tspan><tspan x="544.8" y="218.5">=7.04%</tspan></text>
<text y="240.4" font-size="15.5" fill="#1a1a1a" stroke="#1a1a1a" stroke-width="0.12"><tspan x="532.5" font-style="italic">&#963;</tspan><tspan x="540.8" y="245.6" font-size="10.5" font-style="italic">&#948;</tspan><tspan x="545.7" y="240.4">=0.50%</tspan></text>
<text y="279.5" font-size="15.5" fill="#1a1a1a" stroke="#1a1a1a" stroke-width="0.12"><tspan x="506.3" font-style="italic">&#956;</tspan><tspan x="514.6" y="284.7" font-size="10.5" font-style="italic">&#948;</tspan><tspan x="519.5" y="279.5">=6.18%</tspan></text>
<text y="302.9" font-size="15.5" fill="#1a1a1a" stroke="#1a1a1a" stroke-width="0.12"><tspan x="506.9" font-style="italic">&#963;</tspan><tspan x="515.2" y="308.1" font-size="10.5" font-style="italic">&#948;</tspan><tspan x="520.1" y="302.9">=0.67%</tspan></text>
<text y="340.9" font-size="15.5" fill="#1a1a1a" stroke="#1a1a1a" stroke-width="0.12"><tspan x="505.4" font-style="italic">&#956;</tspan><tspan x="513.7" y="346.1" font-size="10.5" font-style="italic">&#948;</tspan><tspan x="518.6" y="340.9">=6.18%</tspan></text>
<text y="364.0" font-size="15.5" fill="#1a1a1a" stroke="#1a1a1a" stroke-width="0.12"><tspan x="505.9" font-style="italic">&#963;</tspan><tspan x="514.2" y="369.2" font-size="10.5" font-style="italic">&#948;</tspan><tspan x="519.1" y="364.0">=0.67%</tspan></text>
<rect x="401.3" y="472.8" width="7.8" height="15.3" fill="#00ffff" stroke="#555" stroke-width="0.75"/>
<rect x="409.1" y="472.2" width="6.6" height="15.9" fill="#00ffff" stroke="#555" stroke-width="0.75"/>
<rect x="415.7" y="452.8" width="7.7" height="35.3" fill="#00ffff" stroke="#555" stroke-width="0.75"/>
<rect x="423.4" y="434.4" width="7.5" height="53.7" fill="#00ffff" stroke="#555" stroke-width="0.75"/>
<rect x="430.9" y="445.2" width="7.8" height="42.9" fill="#00ffff" stroke="#555" stroke-width="0.75"/>
<rect x="438.7" y="462.3" width="7.1" height="25.8" fill="#00ffff" stroke="#555" stroke-width="0.75"/>
<rect x="445.8" y="481.4" width="7.6" height="6.7" fill="#00ffff" stroke="#555" stroke-width="0.75"/>
<rect x="453.4" y="481.4" width="7.7" height="6.7" fill="#00ffff" stroke="#555" stroke-width="0.75"/>
<polyline points="381.4,488.1 382.6,488.0 383.8,488.0 385.0,488.0 386.1,488.0 387.3,487.9 388.5,487.8 389.7,487.7 390.8,487.6 392.0,487.4 393.2,487.2 394.4,487.0 395.5,486.6 396.7,486.2 397.9,485.7 399.1,485.1 400.3,484.4 401.4,483.5 402.6,482.5 403.8,481.3 405.0,479.9 406.1,478.3 407.3,476.5 408.5,474.5 409.7,472.4 410.8,470.0 412.0,467.5 413.2,464.8 414.4,462.0 415.6,459.1 416.7,456.3 417.9,453.4 419.1,450.6 420.3,448.0 421.4,445.6 422.6,443.4 423.8,441.6 425.0,440.1 426.1,439.0 427.3,438.3 428.5,438.1 429.7,438.3 430.9,439.0 432.0,440.1 433.2,441.6 434.4,443.4 435.6,445.6 436.7,448.0 437.9,450.6 439.1,453.4 440.3,456.3 441.4,459.1 442.6,462.0 443.8,464.8 445.0,467.5 446.2,470.0 447.3,472.4 448.5,474.5 449.7,476.5 450.9,478.3 452.0,479.9 453.2,481.3 454.4,482.5 455.6,483.5 456.7,484.4 457.9,485.1 459.1,485.7 460.3,486.2 461.5,486.6 462.6,487.0 463.8,487.2 465.0,487.4 466.2,487.6 467.3,487.7 468.5,487.8 469.7,487.9 470.9,488.0 472.0,488.0 473.2,488.0 474.4,488.0 475.6,488.1" fill="none" stroke="#222" stroke-width="0.8"/>
<line x1="428.5" y1="426.4" x2="428.5" y2="488.1" stroke="#ff0000" stroke-opacity="0.6" stroke-width="1.35"/>
<rect x="346.7" y="549.3" width="6.4" height="1.3" fill="#fac898" stroke="#555" stroke-width="0.75"/>
<rect x="353.1" y="544.9" width="7" height="5.7" fill="#fac898" stroke="#555" stroke-width="0.75"/>
<rect x="360.1" y="530.3" width="6.4" height="20.3" fill="#fac898" stroke="#555" stroke-width="0.75"/>
<rect x="366.5" y="525.6" width="7" height="25" fill="#fac898" stroke="#555" stroke-width="0.75"/>
<rect x="373.5" y="505.5" width="5.9" height="45.1" fill="#fac898" stroke="#555" stroke-width="0.75"/>
<rect x="379.4" y="503.2" width="7" height="47.4" fill="#fac898" stroke="#555" stroke-width="0.75"/>
<rect x="386.4" y="524.4" width="6.4" height="26.2" fill="#fac898" stroke="#555" stroke-width="0.75"/>
<rect x="392.8" y="534.7" width="6.4" height="15.9" fill="#fac898" stroke="#555" stroke-width="0.75"/>
<rect x="399.2" y="537.4" width="6.5" height="13.2" fill="#fac898" stroke="#555" stroke-width="0.75"/>
<rect x="405.7" y="546.2" width="7" height="4.4" fill="#fac898" stroke="#555" stroke-width="0.75"/>
<polyline points="334.7,550.6 335.8,550.6 337.0,550.5 338.2,550.5 339.3,550.5 340.5,550.4 341.6,550.4 342.8,550.3 343.9,550.2 345.1,550.0 346.3,549.8 347.4,549.6 348.6,549.3 349.7,548.9 350.9,548.5 352.0,547.9 353.2,547.3 354.4,546.5 355.5,545.6 356.7,544.5 357.8,543.3 359.0,541.9 360.2,540.3 361.3,538.5 362.5,536.6 363.6,534.5 364.8,532.2 365.9,529.8 367.1,527.4 368.3,524.8 369.4,522.3 370.6,519.7 371.7,517.3 372.9,514.9 374.1,512.8 375.2,510.8 376.4,509.2 377.5,507.9 378.7,506.9 379.8,506.3 381.0,506.1 382.2,506.3 383.3,506.9 384.5,507.9 385.6,509.2 386.8,510.8 387.9,512.8 389.1,514.9 390.3,517.3 391.4,519.7 392.6,522.3 393.7,524.8 394.9,527.4 396.1,529.8 397.2,532.2 398.4,534.5 399.5,536.6 400.7,538.5 401.8,540.3 403.0,541.9 404.2,543.3 405.3,544.5 406.5,545.6 407.6,546.5 408.8,547.3 410.0,547.9 411.1,548.5 412.3,548.9 413.4,549.3 414.6,549.6 415.7,549.8 416.9,550.0 418.1,550.2 419.2,550.3 420.4,550.4 421.5,550.4 422.7,550.5 423.8,550.5 425.0,550.5 426.2,550.6 427.3,550.6" fill="none" stroke="#222" stroke-width="0.8"/>
<line x1="381" y1="488.1" x2="381" y2="550.6" stroke="#ff0000" stroke-opacity="0.6" stroke-width="1.35"/>
<rect x="307.3" y="610.1" width="5.2" height="2.9" fill="#0568aa" stroke="#555" stroke-width="0.75"/>
<rect x="312.5" y="608.4" width="4.7" height="4.6" fill="#0568aa" stroke="#555" stroke-width="0.75"/>
<rect x="317.2" y="593.4" width="5.8" height="19.6" fill="#0568aa" stroke="#555" stroke-width="0.75"/>
<rect x="323" y="584.2" width="5.3" height="28.8" fill="#0568aa" stroke="#555" stroke-width="0.75"/>
<rect x="328.3" y="582.1" width="5.2" height="30.9" fill="#0568aa" stroke="#555" stroke-width="0.75"/>
<rect x="333.5" y="572.2" width="5.6" height="40.8" fill="#0568aa" stroke="#555" stroke-width="0.75"/>
<rect x="339.1" y="570.4" width="5.9" height="42.6" fill="#0568aa" stroke="#555" stroke-width="0.75"/>
<rect x="345" y="594.4" width="5.5" height="18.6" fill="#0568aa" stroke="#555" stroke-width="0.75"/>
<rect x="350.5" y="603.7" width="5.2" height="9.3" fill="#0568aa" stroke="#555" stroke-width="0.75"/>
<rect x="355.7" y="608.4" width="5.3" height="4.6" fill="#0568aa" stroke="#555" stroke-width="0.75"/>
<rect x="366.2" y="610.1" width="5.9" height="2.9" fill="#0568aa" stroke="#555" stroke-width="0.75"/>
<polyline points="294.1,613.0 295.1,613.0 296.2,612.9 297.2,612.9 298.3,612.9 299.3,612.8 300.4,612.8 301.4,612.7 302.5,612.6 303.5,612.5 304.5,612.3 305.6,612.1 306.6,611.8 307.7,611.5 308.7,611.1 309.8,610.6 310.8,610.0 311.9,609.3 312.9,608.5 314.0,607.5 315.0,606.4 316.0,605.1 317.1,603.7 318.1,602.1 319.2,600.3 320.2,598.4 321.3,596.4 322.3,594.2 323.4,592.0 324.4,589.7 325.4,587.4 326.5,585.1 327.5,582.9 328.6,580.8 329.6,578.8 330.7,577.1 331.7,575.6 332.8,574.4 333.8,573.5 334.9,573.0 335.9,572.8 336.9,573.0 338.0,573.5 339.0,574.4 340.1,575.6 341.1,577.1 342.2,578.8 343.2,580.8 344.3,582.9 345.3,585.1 346.4,587.4 347.4,589.7 348.4,592.0 349.5,594.2 350.5,596.4 351.6,598.4 352.6,600.3 353.7,602.1 354.7,603.7 355.8,605.1 356.8,606.4 357.8,607.5 358.9,608.5 359.9,609.3 361.0,610.0 362.0,610.6 363.1,611.1 364.1,611.5 365.2,611.8 366.2,612.1 367.3,612.3 368.3,612.5 369.3,612.6 370.4,612.7 371.4,612.8 372.5,612.8 373.5,612.9 374.6,612.9 375.6,612.9 376.7,613.0 377.7,613.0" fill="none" stroke="#222" stroke-width="0.8"/>
<line x1="335.9" y1="550.6" x2="335.9" y2="613" stroke="#ff0000" stroke-opacity="0.6" stroke-width="1.35"/>
<rect x="262.8" y="673.7" width="5" height="1.7" fill="#a3e635" stroke="#555" stroke-width="0.75"/>
<rect x="267.8" y="666.3" width="5.6" height="9.1" fill="#a3e635" stroke="#555" stroke-width="0.75"/>
<rect x="273.4" y="661.1" width="5.2" height="14.3" fill="#a3e635" stroke="#555" stroke-width="0.75"/>
<rect x="278.6" y="642.6" width="5.9" height="32.8" fill="#a3e635" stroke="#555" stroke-width="0.75"/>
<rect x="284.5" y="649.1" width="5.2" height="26.3" fill="#a3e635" stroke="#555" stroke-width="0.75"/>
<rect x="289.7" y="640.4" width="5.3" height="35" fill="#a3e635" stroke="#555" stroke-width="0.75"/>
<rect x="295" y="639.4" width="5.5" height="36" fill="#a3e635" stroke="#555" stroke-width="0.75"/>
<rect x="300.5" y="649.4" width="4.6" height="26" fill="#a3e635" stroke="#555" stroke-width="0.75"/>
<rect x="305.1" y="663.7" width="5.6" height="11.7" fill="#a3e635" stroke="#555" stroke-width="0.75"/>
<rect x="310.7" y="665.5" width="4.9" height="9.9" fill="#a3e635" stroke="#555" stroke-width="0.75"/>
<polyline points="248.3,675.4 249.4,675.4 250.5,675.3 251.6,675.3 252.7,675.3 253.8,675.2 254.9,675.2 256.0,675.1 257.2,675.0 258.3,674.9 259.4,674.7 260.5,674.5 261.6,674.3 262.7,674.0 263.8,673.6 264.9,673.1 266.0,672.5 267.1,671.9 268.2,671.1 269.3,670.1 270.4,669.1 271.5,667.8 272.6,666.5 273.7,665.0 274.8,663.3 275.9,661.5 277.0,659.5 278.1,657.4 279.2,655.3 280.3,653.1 281.4,650.9 282.5,648.7 283.6,646.6 284.7,644.5 285.8,642.7 286.9,641.0 288.0,639.6 289.1,638.4 290.2,637.6 291.3,637.1 292.4,636.9 293.5,637.1 294.6,637.6 295.7,638.4 296.8,639.6 297.9,641.0 299.0,642.7 300.1,644.5 301.2,646.6 302.3,648.7 303.4,650.9 304.5,653.1 305.6,655.3 306.7,657.4 307.8,659.5 308.9,661.5 310.0,663.3 311.1,665.0 312.2,666.5 313.3,667.8 314.4,669.1 315.5,670.1 316.6,671.1 317.7,671.9 318.8,672.5 319.9,673.1 321.0,673.6 322.1,674.0 323.2,674.3 324.3,674.5 325.4,674.7 326.5,674.9 327.6,675.0 328.8,675.1 329.9,675.2 331.0,675.2 332.1,675.3 333.2,675.3 334.3,675.3 335.4,675.4 336.5,675.4" fill="none" stroke="#222" stroke-width="0.8"/>
<line x1="292.4" y1="613" x2="292.4" y2="675.4" stroke="#ff0000" stroke-opacity="0.6" stroke-width="1.35"/>
<rect x="224.9" y="736.9" width="9.4" height="1" fill="#fc7dc3" stroke="#555" stroke-width="0.75"/>
<rect x="234.3" y="721.4" width="5.5" height="16.5" fill="#fc7dc3" stroke="#555" stroke-width="0.75"/>
<rect x="239.8" y="703.6" width="6.1" height="34.3" fill="#fc7dc3" stroke="#555" stroke-width="0.75"/>
<rect x="245.9" y="700.7" width="5.9" height="37.2" fill="#fc7dc3" stroke="#555" stroke-width="0.75"/>
<rect x="251.8" y="693.7" width="5.8" height="44.2" fill="#fc7dc3" stroke="#555" stroke-width="0.75"/>
<rect x="257.6" y="697.2" width="5.9" height="40.7" fill="#fc7dc3" stroke="#555" stroke-width="0.75"/>
<rect x="263.5" y="722.1" width="5.8" height="15.8" fill="#fc7dc3" stroke="#555" stroke-width="0.75"/>
<rect x="269.3" y="726.4" width="5.5" height="11.5" fill="#fc7dc3" stroke="#555" stroke-width="0.75"/>
<rect x="274.8" y="735.5" width="6.8" height="2.4" fill="#fc7dc3" stroke="#555" stroke-width="0.75"/>
<polyline points="214.7,737.9 215.7,737.9 216.7,737.8 217.7,737.8 218.7,737.8 219.6,737.7 220.6,737.6 221.6,737.6 222.6,737.4 223.5,737.3 224.5,737.1 225.5,736.9 226.5,736.5 227.5,736.2 228.4,735.7 229.4,735.1 230.4,734.4 231.4,733.6 232.4,732.7 233.3,731.5 234.3,730.3 235.3,728.8 236.3,727.1 237.3,725.3 238.2,723.3 239.2,721.1 240.2,718.7 241.2,716.2 242.2,713.6 243.1,711.0 244.1,708.3 245.1,705.6 246.1,703.1 247.0,700.6 248.0,698.4 249.0,696.4 250.0,694.6 251.0,693.3 251.9,692.2 252.9,691.6 253.9,691.4 254.9,691.6 255.9,692.2 256.8,693.3 257.8,694.6 258.8,696.4 259.8,698.4 260.8,700.6 261.7,703.1 262.7,705.6 263.7,708.3 264.7,711.0 265.6,713.6 266.6,716.2 267.6,718.7 268.6,721.1 269.6,723.3 270.5,725.3 271.5,727.1 272.5,728.8 273.5,730.3 274.5,731.5 275.4,732.7 276.4,733.6 277.4,734.4 278.4,735.1 279.4,735.7 280.3,736.2 281.3,736.5 282.3,736.9 283.3,737.1 284.3,737.3 285.2,737.4 286.2,737.6 287.2,737.6 288.2,737.7 289.1,737.8 290.1,737.8 291.1,737.8 292.1,737.9 293.1,737.9" fill="none" stroke="#222" stroke-width="0.8"/>
<line x1="253.9" y1="675.4" x2="253.9" y2="737.9" stroke="#ff0000" stroke-opacity="0.6" stroke-width="1.35"/>
<rect x="215.3" y="793.9" width="3" height="6.4" fill="#c3c3c3" stroke="#555" stroke-width="0.75"/>
<rect x="218.3" y="783.8" width="3" height="16.5" fill="#c3c3c3" stroke="#555" stroke-width="0.75"/>
<rect x="221.3" y="776.2" width="3.1" height="24.1" fill="#c3c3c3" stroke="#555" stroke-width="0.75"/>
<rect x="224.4" y="754.4" width="4.1" height="45.9" fill="#c3c3c3" stroke="#555" stroke-width="0.75"/>
<rect x="228.5" y="757.3" width="3.1" height="43" fill="#c3c3c3" stroke="#555" stroke-width="0.75"/>
<rect x="231.6" y="775.3" width="3.1" height="25" fill="#c3c3c3" stroke="#555" stroke-width="0.75"/>
<rect x="234.7" y="777.6" width="3.1" height="22.7" fill="#c3c3c3" stroke="#555" stroke-width="0.75"/>
<rect x="237.8" y="791.3" width="3.5" height="9" fill="#c3c3c3" stroke="#555" stroke-width="0.75"/>
<rect x="241.3" y="790.2" width="3.5" height="10.1" fill="#c3c3c3" stroke="#555" stroke-width="0.75"/>
<rect x="244.8" y="796.3" width="3.1" height="4" fill="#c3c3c3" stroke="#555" stroke-width="0.75"/>
<polyline points="204.6,800.3 205.2,800.3 205.8,800.2 206.5,800.2 207.1,800.2 207.7,800.1 208.4,800.1 209.0,800.0 209.6,799.9 210.2,799.8 210.9,799.6 211.5,799.4 212.1,799.2 212.8,798.8 213.4,798.4 214.0,798.0 214.7,797.4 215.3,796.7 215.9,795.9 216.6,794.9 217.2,793.9 217.8,792.6 218.4,791.2 219.1,789.7 219.7,788.0 220.3,786.1 221.0,784.1 221.6,782.0 222.2,779.8 222.9,777.6 223.5,775.3 224.1,773.1 224.8,770.9 225.4,768.9 226.0,767.0 226.6,765.3 227.3,763.8 227.9,762.7 228.5,761.8 229.2,761.3 229.8,761.1 230.4,761.3 231.1,761.8 231.7,762.7 232.3,763.8 233.0,765.3 233.6,767.0 234.2,768.9 234.8,770.9 235.5,773.1 236.1,775.3 236.7,777.6 237.4,779.8 238.0,782.0 238.6,784.1 239.3,786.1 239.9,788.0 240.5,789.7 241.2,791.2 241.8,792.6 242.4,793.9 243.0,794.9 243.7,795.9 244.3,796.7 244.9,797.4 245.6,798.0 246.2,798.4 246.8,798.8 247.5,799.2 248.1,799.4 248.7,799.6 249.4,799.8 250.0,799.9 250.6,800.0 251.2,800.1 251.9,800.1 252.5,800.2 253.1,800.2 253.8,800.2 254.4,800.3 255.0,800.3" fill="none" stroke="#222" stroke-width="0.8"/>
<line x1="229.8" y1="737.9" x2="229.8" y2="800.3" stroke="#ff0000" stroke-opacity="0.6" stroke-width="1.35"/>
<rect x="198.1" y="426.4" width="287.4" height="373.9" fill="none" stroke="#5e5e5e" stroke-width="1.3"/>
<line x1="198.1" y1="488.1" x2="485.5" y2="488.1" stroke="#5e5e5e" stroke-width="1.3"/>
<line x1="198.1" y1="550.6" x2="485.5" y2="550.6" stroke="#5e5e5e" stroke-width="1.3"/>
<line x1="198.1" y1="613.0" x2="485.5" y2="613.0" stroke="#5e5e5e" stroke-width="1.3"/>
<line x1="198.1" y1="675.4" x2="485.5" y2="675.4" stroke="#5e5e5e" stroke-width="1.3"/>
<line x1="198.1" y1="737.9" x2="485.5" y2="737.9" stroke="#5e5e5e" stroke-width="1.3"/>
<line x1="193.8" y1="488.1" x2="198.1" y2="488.1" stroke="#5e5e5e" stroke-width="0.9"/>
<line x1="195.9" y1="475.2" x2="198.1" y2="475.2" stroke="#5e5e5e" stroke-width="0.9"/>
<line x1="193.8" y1="462.2" x2="198.1" y2="462.2" stroke="#5e5e5e" stroke-width="0.9"/>
<line x1="195.9" y1="449.2" x2="198.1" y2="449.2" stroke="#5e5e5e" stroke-width="0.9"/>
<line x1="193.8" y1="436.3" x2="198.1" y2="436.3" stroke="#5e5e5e" stroke-width="0.9"/>
<line x1="198.1" y1="488.1" x2="198.1" y2="491.3" stroke="#5e5e5e" stroke-width="1.0"/>
<line x1="213.0" y1="488.1" x2="213.0" y2="490.1" stroke="#5e5e5e" stroke-width="1.0"/>
<line x1="227.8" y1="488.1" x2="227.8" y2="491.3" stroke="#5e5e5e" stroke-width="1.0"/>
<line x1="242.7" y1="488.1" x2="242.7" y2="490.1" stroke="#5e5e5e" stroke-width="1.0"/>
<line x1="257.6" y1="488.1" x2="257.6" y2="491.3" stroke="#5e5e5e" stroke-width="1.0"/>
<line x1="272.4" y1="488.1" x2="272.4" y2="490.1" stroke="#5e5e5e" stroke-width="1.0"/>
<line x1="287.3" y1="488.1" x2="287.3" y2="491.3" stroke="#5e5e5e" stroke-width="1.0"/>
<line x1="302.2" y1="488.1" x2="302.2" y2="490.1" stroke="#5e5e5e" stroke-width="1.0"/>
<line x1="317.0" y1="488.1" x2="317.0" y2="491.3" stroke="#5e5e5e" stroke-width="1.0"/>
<line x1="331.9" y1="488.1" x2="331.9" y2="490.1" stroke="#5e5e5e" stroke-width="1.0"/>
<line x1="346.8" y1="488.1" x2="346.8" y2="491.3" stroke="#5e5e5e" stroke-width="1.0"/>
<line x1="361.6" y1="488.1" x2="361.6" y2="490.1" stroke="#5e5e5e" stroke-width="1.0"/>
<line x1="376.5" y1="488.1" x2="376.5" y2="491.3" stroke="#5e5e5e" stroke-width="1.0"/>
<line x1="391.4" y1="488.1" x2="391.4" y2="490.1" stroke="#5e5e5e" stroke-width="1.0"/>
<line x1="406.2" y1="488.1" x2="406.2" y2="491.3" stroke="#5e5e5e" stroke-width="1.0"/>
<line x1="421.1" y1="488.1" x2="421.1" y2="490.1" stroke="#5e5e5e" stroke-width="1.0"/>
<line x1="435.9" y1="488.1" x2="435.9" y2="491.3" stroke="#5e5e5e" stroke-width="1.0"/>
<line x1="450.8" y1="488.1" x2="450.8" y2="490.1" stroke="#5e5e5e" stroke-width="1.0"/>
<line x1="465.7" y1="488.1" x2="465.7" y2="491.3" stroke="#5e5e5e" stroke-width="1.0"/>
<line x1="480.5" y1="488.1" x2="480.5" y2="490.1" stroke="#5e5e5e" stroke-width="1.0"/>
<line x1="193.8" y1="550.6" x2="198.1" y2="550.6" stroke="#5e5e5e" stroke-width="0.9"/>
<line x1="195.9" y1="537.6" x2="198.1" y2="537.6" stroke="#5e5e5e" stroke-width="0.9"/>
<line x1="193.8" y1="524.7" x2="198.1" y2="524.7" stroke="#5e5e5e" stroke-width="0.9"/>
<line x1="195.9" y1="511.8" x2="198.1" y2="511.8" stroke="#5e5e5e" stroke-width="0.9"/>
<line x1="193.8" y1="498.8" x2="198.1" y2="498.8" stroke="#5e5e5e" stroke-width="0.9"/>
<line x1="198.1" y1="550.6" x2="198.1" y2="553.8000000000001" stroke="#5e5e5e" stroke-width="1.0"/>
<line x1="213.0" y1="550.6" x2="213.0" y2="552.6" stroke="#5e5e5e" stroke-width="1.0"/>
<line x1="227.8" y1="550.6" x2="227.8" y2="553.8000000000001" stroke="#5e5e5e" stroke-width="1.0"/>
<line x1="242.7" y1="550.6" x2="242.7" y2="552.6" stroke="#5e5e5e" stroke-width="1.0"/>
<line x1="257.6" y1="550.6" x2="257.6" y2="553.8000000000001" stroke="#5e5e5e" stroke-width="1.0"/>
<line x1="272.4" y1="550.6" x2="272.4" y2="552.6" stroke="#5e5e5e" stroke-width="1.0"/>
<line x1="287.3" y1="550.6" x2="287.3" y2="553.8000000000001" stroke="#5e5e5e" stroke-width="1.0"/>
<line x1="302.2" y1="550.6" x2="302.2" y2="552.6" stroke="#5e5e5e" stroke-width="1.0"/>
<line x1="317.0" y1="550.6" x2="317.0" y2="553.8000000000001" stroke="#5e5e5e" stroke-width="1.0"/>
<line x1="331.9" y1="550.6" x2="331.9" y2="552.6" stroke="#5e5e5e" stroke-width="1.0"/>
<line x1="346.8" y1="550.6" x2="346.8" y2="553.8000000000001" stroke="#5e5e5e" stroke-width="1.0"/>
<line x1="361.6" y1="550.6" x2="361.6" y2="552.6" stroke="#5e5e5e" stroke-width="1.0"/>
<line x1="376.5" y1="550.6" x2="376.5" y2="553.8000000000001" stroke="#5e5e5e" stroke-width="1.0"/>
<line x1="391.4" y1="550.6" x2="391.4" y2="552.6" stroke="#5e5e5e" stroke-width="1.0"/>
<line x1="406.2" y1="550.6" x2="406.2" y2="553.8000000000001" stroke="#5e5e5e" stroke-width="1.0"/>
<line x1="421.1" y1="550.6" x2="421.1" y2="552.6" stroke="#5e5e5e" stroke-width="1.0"/>
<line x1="435.9" y1="550.6" x2="435.9" y2="553.8000000000001" stroke="#5e5e5e" stroke-width="1.0"/>
<line x1="450.8" y1="550.6" x2="450.8" y2="552.6" stroke="#5e5e5e" stroke-width="1.0"/>
<line x1="465.7" y1="550.6" x2="465.7" y2="553.8000000000001" stroke="#5e5e5e" stroke-width="1.0"/>
<line x1="480.5" y1="550.6" x2="480.5" y2="552.6" stroke="#5e5e5e" stroke-width="1.0"/>
<line x1="193.8" y1="613.0" x2="198.1" y2="613.0" stroke="#5e5e5e" stroke-width="0.9"/>
<line x1="195.9" y1="600.0" x2="198.1" y2="600.0" stroke="#5e5e5e" stroke-width="0.9"/>
<line x1="193.8" y1="587.1" x2="198.1" y2="587.1" stroke="#5e5e5e" stroke-width="0.9"/>
<line x1="195.9" y1="574.1" x2="198.1" y2="574.1" stroke="#5e5e5e" stroke-width="0.9"/>
<line x1="193.8" y1="561.2" x2="198.1" y2="561.2" stroke="#5e5e5e" stroke-width="0.9"/>
<line x1="198.1" y1="613.0" x2="198.1" y2="616.2" stroke="#5e5e5e" stroke-width="1.0"/>
<line x1="213.0" y1="613.0" x2="213.0" y2="615.0" stroke="#5e5e5e" stroke-width="1.0"/>
<line x1="227.8" y1="613.0" x2="227.8" y2="616.2" stroke="#5e5e5e" stroke-width="1.0"/>
<line x1="242.7" y1="613.0" x2="242.7" y2="615.0" stroke="#5e5e5e" stroke-width="1.0"/>
<line x1="257.6" y1="613.0" x2="257.6" y2="616.2" stroke="#5e5e5e" stroke-width="1.0"/>
<line x1="272.4" y1="613.0" x2="272.4" y2="615.0" stroke="#5e5e5e" stroke-width="1.0"/>
<line x1="287.3" y1="613.0" x2="287.3" y2="616.2" stroke="#5e5e5e" stroke-width="1.0"/>
<line x1="302.2" y1="613.0" x2="302.2" y2="615.0" stroke="#5e5e5e" stroke-width="1.0"/>
<line x1="317.0" y1="613.0" x2="317.0" y2="616.2" stroke="#5e5e5e" stroke-width="1.0"/>
<line x1="331.9" y1="613.0" x2="331.9" y2="615.0" stroke="#5e5e5e" stroke-width="1.0"/>
<line x1="346.8" y1="613.0" x2="346.8" y2="616.2" stroke="#5e5e5e" stroke-width="1.0"/>
<line x1="361.6" y1="613.0" x2="361.6" y2="615.0" stroke="#5e5e5e" stroke-width="1.0"/>
<line x1="376.5" y1="613.0" x2="376.5" y2="616.2" stroke="#5e5e5e" stroke-width="1.0"/>
<line x1="391.4" y1="613.0" x2="391.4" y2="615.0" stroke="#5e5e5e" stroke-width="1.0"/>
<line x1="406.2" y1="613.0" x2="406.2" y2="616.2" stroke="#5e5e5e" stroke-width="1.0"/>
<line x1="421.1" y1="613.0" x2="421.1" y2="615.0" stroke="#5e5e5e" stroke-width="1.0"/>
<line x1="435.9" y1="613.0" x2="435.9" y2="616.2" stroke="#5e5e5e" stroke-width="1.0"/>
<line x1="450.8" y1="613.0" x2="450.8" y2="615.0" stroke="#5e5e5e" stroke-width="1.0"/>
<line x1="465.7" y1="613.0" x2="465.7" y2="616.2" stroke="#5e5e5e" stroke-width="1.0"/>
<line x1="480.5" y1="613.0" x2="480.5" y2="615.0" stroke="#5e5e5e" stroke-width="1.0"/>
<line x1="193.8" y1="675.4" x2="198.1" y2="675.4" stroke="#5e5e5e" stroke-width="0.9"/>
<line x1="195.9" y1="662.4" x2="198.1" y2="662.4" stroke="#5e5e5e" stroke-width="0.9"/>
<line x1="193.8" y1="649.5" x2="198.1" y2="649.5" stroke="#5e5e5e" stroke-width="0.9"/>
<line x1="195.9" y1="636.5" x2="198.1" y2="636.5" stroke="#5e5e5e" stroke-width="0.9"/>
<line x1="193.8" y1="623.6" x2="198.1" y2="623.6" stroke="#5e5e5e" stroke-width="0.9"/>
<line x1="198.1" y1="675.4" x2="198.1" y2="678.6" stroke="#5e5e5e" stroke-width="1.0"/>
<line x1="213.0" y1="675.4" x2="213.0" y2="677.4" stroke="#5e5e5e" stroke-width="1.0"/>
<line x1="227.8" y1="675.4" x2="227.8" y2="678.6" stroke="#5e5e5e" stroke-width="1.0"/>
<line x1="242.7" y1="675.4" x2="242.7" y2="677.4" stroke="#5e5e5e" stroke-width="1.0"/>
<line x1="257.6" y1="675.4" x2="257.6" y2="678.6" stroke="#5e5e5e" stroke-width="1.0"/>
<line x1="272.4" y1="675.4" x2="272.4" y2="677.4" stroke="#5e5e5e" stroke-width="1.0"/>
<line x1="287.3" y1="675.4" x2="287.3" y2="678.6" stroke="#5e5e5e" stroke-width="1.0"/>
<line x1="302.2" y1="675.4" x2="302.2" y2="677.4" stroke="#5e5e5e" stroke-width="1.0"/>
<line x1="317.0" y1="675.4" x2="317.0" y2="678.6" stroke="#5e5e5e" stroke-width="1.0"/>
<line x1="331.9" y1="675.4" x2="331.9" y2="677.4" stroke="#5e5e5e" stroke-width="1.0"/>
<line x1="346.8" y1="675.4" x2="346.8" y2="678.6" stroke="#5e5e5e" stroke-width="1.0"/>
<line x1="361.6" y1="675.4" x2="361.6" y2="677.4" stroke="#5e5e5e" stroke-width="1.0"/>
<line x1="376.5" y1="675.4" x2="376.5" y2="678.6" stroke="#5e5e5e" stroke-width="1.0"/>
<line x1="391.4" y1="675.4" x2="391.4" y2="677.4" stroke="#5e5e5e" stroke-width="1.0"/>
<line x1="406.2" y1="675.4" x2="406.2" y2="678.6" stroke="#5e5e5e" stroke-width="1.0"/>
<line x1="421.1" y1="675.4" x2="421.1" y2="677.4" stroke="#5e5e5e" stroke-width="1.0"/>
<line x1="435.9" y1="675.4" x2="435.9" y2="678.6" stroke="#5e5e5e" stroke-width="1.0"/>
<line x1="450.8" y1="675.4" x2="450.8" y2="677.4" stroke="#5e5e5e" stroke-width="1.0"/>
<line x1="465.7" y1="675.4" x2="465.7" y2="678.6" stroke="#5e5e5e" stroke-width="1.0"/>
<line x1="480.5" y1="675.4" x2="480.5" y2="677.4" stroke="#5e5e5e" stroke-width="1.0"/>
<line x1="193.8" y1="737.9" x2="198.1" y2="737.9" stroke="#5e5e5e" stroke-width="0.9"/>
<line x1="195.9" y1="724.9" x2="198.1" y2="724.9" stroke="#5e5e5e" stroke-width="0.9"/>
<line x1="193.8" y1="712.0" x2="198.1" y2="712.0" stroke="#5e5e5e" stroke-width="0.9"/>
<line x1="195.9" y1="699.0" x2="198.1" y2="699.0" stroke="#5e5e5e" stroke-width="0.9"/>
<line x1="193.8" y1="686.1" x2="198.1" y2="686.1" stroke="#5e5e5e" stroke-width="0.9"/>
<line x1="198.1" y1="737.9" x2="198.1" y2="741.1" stroke="#5e5e5e" stroke-width="1.0"/>
<line x1="213.0" y1="737.9" x2="213.0" y2="739.9" stroke="#5e5e5e" stroke-width="1.0"/>
<line x1="227.8" y1="737.9" x2="227.8" y2="741.1" stroke="#5e5e5e" stroke-width="1.0"/>
<line x1="242.7" y1="737.9" x2="242.7" y2="739.9" stroke="#5e5e5e" stroke-width="1.0"/>
<line x1="257.6" y1="737.9" x2="257.6" y2="741.1" stroke="#5e5e5e" stroke-width="1.0"/>
<line x1="272.4" y1="737.9" x2="272.4" y2="739.9" stroke="#5e5e5e" stroke-width="1.0"/>
<line x1="287.3" y1="737.9" x2="287.3" y2="741.1" stroke="#5e5e5e" stroke-width="1.0"/>
<line x1="302.2" y1="737.9" x2="302.2" y2="739.9" stroke="#5e5e5e" stroke-width="1.0"/>
<line x1="317.0" y1="737.9" x2="317.0" y2="741.1" stroke="#5e5e5e" stroke-width="1.0"/>
<line x1="331.9" y1="737.9" x2="331.9" y2="739.9" stroke="#5e5e5e" stroke-width="1.0"/>
<line x1="346.8" y1="737.9" x2="346.8" y2="741.1" stroke="#5e5e5e" stroke-width="1.0"/>
<line x1="361.6" y1="737.9" x2="361.6" y2="739.9" stroke="#5e5e5e" stroke-width="1.0"/>
<line x1="376.5" y1="737.9" x2="376.5" y2="741.1" stroke="#5e5e5e" stroke-width="1.0"/>
<line x1="391.4" y1="737.9" x2="391.4" y2="739.9" stroke="#5e5e5e" stroke-width="1.0"/>
<line x1="406.2" y1="737.9" x2="406.2" y2="741.1" stroke="#5e5e5e" stroke-width="1.0"/>
<line x1="421.1" y1="737.9" x2="421.1" y2="739.9" stroke="#5e5e5e" stroke-width="1.0"/>
<line x1="435.9" y1="737.9" x2="435.9" y2="741.1" stroke="#5e5e5e" stroke-width="1.0"/>
<line x1="450.8" y1="737.9" x2="450.8" y2="739.9" stroke="#5e5e5e" stroke-width="1.0"/>
<line x1="465.7" y1="737.9" x2="465.7" y2="741.1" stroke="#5e5e5e" stroke-width="1.0"/>
<line x1="480.5" y1="737.9" x2="480.5" y2="739.9" stroke="#5e5e5e" stroke-width="1.0"/>
<line x1="193.8" y1="800.3" x2="198.1" y2="800.3" stroke="#5e5e5e" stroke-width="0.9"/>
<line x1="195.9" y1="787.3" x2="198.1" y2="787.3" stroke="#5e5e5e" stroke-width="0.9"/>
<line x1="193.8" y1="774.4" x2="198.1" y2="774.4" stroke="#5e5e5e" stroke-width="0.9"/>
<line x1="195.9" y1="761.4" x2="198.1" y2="761.4" stroke="#5e5e5e" stroke-width="0.9"/>
<line x1="193.8" y1="748.5" x2="198.1" y2="748.5" stroke="#5e5e5e" stroke-width="0.9"/>
<line x1="198.1" y1="800.3" x2="198.1" y2="803.5" stroke="#5e5e5e" stroke-width="1.0"/>
<line x1="213.0" y1="800.3" x2="213.0" y2="802.3" stroke="#5e5e5e" stroke-width="1.0"/>
<line x1="227.8" y1="800.3" x2="227.8" y2="803.5" stroke="#5e5e5e" stroke-width="1.0"/>
<line x1="242.7" y1="800.3" x2="242.7" y2="802.3" stroke="#5e5e5e" stroke-width="1.0"/>
<line x1="257.6" y1="800.3" x2="257.6" y2="803.5" stroke="#5e5e5e" stroke-width="1.0"/>
<line x1="272.4" y1="800.3" x2="272.4" y2="802.3" stroke="#5e5e5e" stroke-width="1.0"/>
<line x1="287.3" y1="800.3" x2="287.3" y2="803.5" stroke="#5e5e5e" stroke-width="1.0"/>
<line x1="302.2" y1="800.3" x2="302.2" y2="802.3" stroke="#5e5e5e" stroke-width="1.0"/>
<line x1="317.0" y1="800.3" x2="317.0" y2="803.5" stroke="#5e5e5e" stroke-width="1.0"/>
<line x1="331.9" y1="800.3" x2="331.9" y2="802.3" stroke="#5e5e5e" stroke-width="1.0"/>
<line x1="346.8" y1="800.3" x2="346.8" y2="803.5" stroke="#5e5e5e" stroke-width="1.0"/>
<line x1="361.6" y1="800.3" x2="361.6" y2="802.3" stroke="#5e5e5e" stroke-width="1.0"/>
<line x1="376.5" y1="800.3" x2="376.5" y2="803.5" stroke="#5e5e5e" stroke-width="1.0"/>
<line x1="391.4" y1="800.3" x2="391.4" y2="802.3" stroke="#5e5e5e" stroke-width="1.0"/>
<line x1="406.2" y1="800.3" x2="406.2" y2="803.5" stroke="#5e5e5e" stroke-width="1.0"/>
<line x1="421.1" y1="800.3" x2="421.1" y2="802.3" stroke="#5e5e5e" stroke-width="1.0"/>
<line x1="435.9" y1="800.3" x2="435.9" y2="803.5" stroke="#5e5e5e" stroke-width="1.0"/>
<line x1="450.8" y1="800.3" x2="450.8" y2="802.3" stroke="#5e5e5e" stroke-width="1.0"/>
<line x1="465.7" y1="800.3" x2="465.7" y2="803.5" stroke="#5e5e5e" stroke-width="1.0"/>
<line x1="480.5" y1="800.3" x2="480.5" y2="802.3" stroke="#5e5e5e" stroke-width="1.0"/>
<text x="0" y="0" font-size="15" text-anchor="end" transform="translate(193.4,490.9) rotate(-20)" fill="#1a1a1a" stroke="#1a1a1a" stroke-width="0.15">0</text>
<text x="0" y="0" font-size="15" text-anchor="end" transform="translate(193.4,465.0) rotate(-20)" fill="#1a1a1a" stroke="#1a1a1a" stroke-width="0.15">25</text>
<text x="0" y="0" font-size="15" text-anchor="end" transform="translate(193.4,439.1) rotate(-20)" fill="#1a1a1a" stroke="#1a1a1a" stroke-width="0.15">50</text>
<text x="0" y="0" font-size="16" text-anchor="middle" transform="translate(171.9,457.2) rotate(-90)" fill="#1a1a1a" stroke="#1a1a1a" stroke-width="0.15">d=10mm</text>
<text x="0" y="0" font-size="15" text-anchor="end" transform="translate(193.4,553.4) rotate(-20)" fill="#1a1a1a" stroke="#1a1a1a" stroke-width="0.15">0</text>
<text x="0" y="0" font-size="15" text-anchor="end" transform="translate(193.4,527.5) rotate(-20)" fill="#1a1a1a" stroke="#1a1a1a" stroke-width="0.15">25</text>
<text x="0" y="0" font-size="15" text-anchor="end" transform="translate(193.4,501.6) rotate(-20)" fill="#1a1a1a" stroke="#1a1a1a" stroke-width="0.15">50</text>
<text x="0" y="0" font-size="16" text-anchor="middle" transform="translate(171.9,519.4) rotate(-90)" fill="#1a1a1a" stroke="#1a1a1a" stroke-width="0.15">d=8mm</text>
<text x="0" y="0" font-size="15" text-anchor="end" transform="translate(193.4,615.8) rotate(-20)" fill="#1a1a1a" stroke="#1a1a1a" stroke-width="0.15">0</text>
<text x="0" y="0" font-size="15" text-anchor="end" transform="translate(193.4,589.9) rotate(-20)" fill="#1a1a1a" stroke="#1a1a1a" stroke-width="0.15">25</text>
<text x="0" y="0" font-size="15" text-anchor="end" transform="translate(193.4,564.0) rotate(-20)" fill="#1a1a1a" stroke="#1a1a1a" stroke-width="0.15">50</text>
<text x="0" y="0" font-size="16" text-anchor="middle" transform="translate(171.9,581.8) rotate(-90)" fill="#1a1a1a" stroke="#1a1a1a" stroke-width="0.15">d=6mm</text>
<text x="0" y="0" font-size="15" text-anchor="end" transform="translate(193.4,678.2) rotate(-20)" fill="#1a1a1a" stroke="#1a1a1a" stroke-width="0.15">0</text>
<text x="0" y="0" font-size="15" text-anchor="end" transform="translate(193.4,652.3) rotate(-20)" fill="#1a1a1a" stroke="#1a1a1a" stroke-width="0.15">25</text>
<text x="0" y="0" font-size="15" text-anchor="end" transform="translate(193.4,626.4) rotate(-20)" fill="#1a1a1a" stroke="#1a1a1a" stroke-width="0.15">50</text>
<text x="0" y="0" font-size="16" text-anchor="middle" transform="translate(171.9,644.2) rotate(-90)" fill="#1a1a1a" stroke="#1a1a1a" stroke-width="0.15">d=4mm</text>
<text x="0" y="0" font-size="15" text-anchor="end" transform="translate(193.4,740.7) rotate(-20)" fill="#1a1a1a" stroke="#1a1a1a" stroke-width="0.15">0</text>
<text x="0" y="0" font-size="15" text-anchor="end" transform="translate(193.4,714.8) rotate(-20)" fill="#1a1a1a" stroke="#1a1a1a" stroke-width="0.15">25</text>
<text x="0" y="0" font-size="15" text-anchor="end" transform="translate(193.4,688.9) rotate(-20)" fill="#1a1a1a" stroke="#1a1a1a" stroke-width="0.15">50</text>
<text x="0" y="0" font-size="16" text-anchor="middle" transform="translate(171.9,706.6) rotate(-90)" fill="#1a1a1a" stroke="#1a1a1a" stroke-width="0.15">d=2mm</text>
<text x="0" y="0" font-size="15" text-anchor="end" transform="translate(193.4,803.1) rotate(-20)" fill="#1a1a1a" stroke="#1a1a1a" stroke-width="0.15">0</text>
<text x="0" y="0" font-size="15" text-anchor="end" transform="translate(193.4,777.2) rotate(-20)" fill="#1a1a1a" stroke="#1a1a1a" stroke-width="0.15">25</text>
<text x="0" y="0" font-size="15" text-anchor="end" transform="translate(193.4,751.3) rotate(-20)" fill="#1a1a1a" stroke="#1a1a1a" stroke-width="0.15">50</text>
<text x="0" y="0" font-size="16" text-anchor="middle" transform="translate(171.9,769.1) rotate(-90)" fill="#1a1a1a" stroke="#1a1a1a" stroke-width="0.15">d=0</text>
<text x="0" y="0" font-size="15" text-anchor="middle" transform="translate(198.1,818.3) rotate(-15)" fill="#1a1a1a" stroke="#1a1a1a" stroke-width="0.15">3%</text>
<text x="0" y="0" font-size="15" text-anchor="middle" transform="translate(227.8,818.3) rotate(-15)" fill="#1a1a1a" stroke="#1a1a1a" stroke-width="0.15">6%</text>
<text x="0" y="0" font-size="15" text-anchor="middle" transform="translate(257.6,818.3) rotate(-15)" fill="#1a1a1a" stroke="#1a1a1a" stroke-width="0.15">9%</text>
<text x="0" y="0" font-size="15" text-anchor="middle" transform="translate(287.3,818.3) rotate(-15)" fill="#1a1a1a" stroke="#1a1a1a" stroke-width="0.15">12%</text>
<text x="0" y="0" font-size="15" text-anchor="middle" transform="translate(317.0,818.3) rotate(-15)" fill="#1a1a1a" stroke="#1a1a1a" stroke-width="0.15">15%</text>
<text x="0" y="0" font-size="15" text-anchor="middle" transform="translate(346.8,818.3) rotate(-15)" fill="#1a1a1a" stroke="#1a1a1a" stroke-width="0.15">18%</text>
<text x="0" y="0" font-size="15" text-anchor="middle" transform="translate(376.5,818.3) rotate(-15)" fill="#1a1a1a" stroke="#1a1a1a" stroke-width="0.15">21%</text>
<text x="0" y="0" font-size="15" text-anchor="middle" transform="translate(406.2,818.3) rotate(-15)" fill="#1a1a1a" stroke="#1a1a1a" stroke-width="0.15">24%</text>
<text x="0" y="0" font-size="15" text-anchor="middle" transform="translate(435.9,818.3) rotate(-15)" fill="#1a1a1a" stroke="#1a1a1a" stroke-width="0.15">27%</text>
<text x="0" y="0" font-size="15" text-anchor="middle" transform="translate(465.7,818.3) rotate(-15)" fill="#1a1a1a" stroke="#1a1a1a" stroke-width="0.15">30%</text>
<text x="354.0" y="833.3" font-size="16" font-style="italic" text-anchor="middle" fill="#1a1a1a">&#948;</text>
<text x="483.6" y="444.6" font-size="17" text-anchor="end" fill="#1a1a1a" stroke="#1a1a1a" stroke-width="0.12">(c)</text>
<text y="451.6" font-size="15.5" fill="#1a1a1a" stroke="#1a1a1a" stroke-width="0.12"><tspan x="268.5" font-style="italic">&#956;</tspan><tspan x="276.8" y="456.8" font-size="10.5" font-style="italic">&#948;</tspan><tspan x="281.7" y="451.6">=26.23%</tspan></text>
<text y="473.9" font-size="15.5" fill="#1a1a1a" stroke="#1a1a1a" stroke-width="0.12"><tspan x="268.9" font-style="italic">&#963;</tspan><tspan x="277.2" y="479.1" font-size="10.5" font-style="italic">&#948;</tspan><tspan x="282.1" y="473.9">=1.25%</tspan></text>
<text y="514.8" font-size="15.5" fill="#1a1a1a" stroke="#1a1a1a" stroke-width="0.12"><tspan x="239.2" font-style="italic">&#956;</tspan><tspan x="247.5" y="520.0" font-size="10.5" font-style="italic">&#948;</tspan><tspan x="252.4" y="514.8">=21.48%</tspan></text>
<text y="537.9" font-size="15.5" fill="#1a1a1a" stroke="#1a1a1a" stroke-width="0.12"><tspan x="240.3" font-style="italic">&#963;</tspan><tspan x="248.6" y="543.1" font-size="10.5" font-style="italic">&#948;</tspan><tspan x="253.5" y="537.9">=1.23%</tspan></text>
<text y="577.5" font-size="15.5" fill="#1a1a1a" stroke="#1a1a1a" stroke-width="0.12"><tspan x="219.9" font-style="italic">&#956;</tspan><tspan x="228.2" y="582.7" font-size="10.5" font-style="italic">&#948;</tspan><tspan x="233.1" y="577.5">=16.88%</tspan></text>
<text y="599.5" font-size="15.5" fill="#1a1a1a" stroke="#1a1a1a" stroke-width="0.12"><tspan x="221.0" font-style="italic">&#963;</tspan><tspan x="229.3" y="604.7" font-size="10.5" font-style="italic">&#948;</tspan><tspan x="234.2" y="599.5">=1.11%</tspan></text>
<text y="639.0" font-size="15.5" fill="#1a1a1a" stroke="#1a1a1a" stroke-width="0.12"><tspan x="200.1" font-style="italic">&#956;</tspan><tspan x="208.4" y="644.2" font-size="10.5" font-style="italic">&#948;</tspan><tspan x="213.3" y="639.0">=12.46%</tspan></text>
<text y="661.9" font-size="15.5" fill="#1a1a1a" stroke="#1a1a1a" stroke-width="0.12"><tspan x="200.5" font-style="italic">&#963;</tspan><tspan x="208.8" y="667.1" font-size="10.5" font-style="italic">&#948;</tspan><tspan x="213.7" y="661.9">=1.17%</tspan></text>
<text y="703.2" font-size="15.5" fill="#1a1a1a" stroke="#1a1a1a" stroke-width="0.12"><tspan x="315.0" font-style="italic">&#956;</tspan><tspan x="323.3" y="708.4" font-size="10.5" font-style="italic">&#948;</tspan><tspan x="328.2" y="703.2">=8.63%</tspan></text>
<text y="725.7" font-size="15.5" fill="#1a1a1a" stroke="#1a1a1a" stroke-width="0.12"><tspan x="315.4" font-style="italic">&#963;</tspan><tspan x="323.7" y="730.9" font-size="10.5" font-style="italic">&#948;</tspan><tspan x="328.6" y="725.7">=1.04%</tspan></text>
<text y="765.5" font-size="15.5" fill="#1a1a1a" stroke="#1a1a1a" stroke-width="0.12"><tspan x="293.1" font-style="italic">&#956;</tspan><tspan x="301.4" y="770.7" font-size="10.5" font-style="italic">&#948;</tspan><tspan x="306.3" y="765.5">=6.18%</tspan></text>
<text y="788.0" font-size="15.5" fill="#1a1a1a" stroke="#1a1a1a" stroke-width="0.12"><tspan x="293.6" font-style="italic">&#963;</tspan><tspan x="301.9" y="793.2" font-size="10.5" font-style="italic">&#948;</tspan><tspan x="306.8" y="788.0">=0.67%</tspan></text>
<polyline points="432.7,313.9 433.9,310.9 435.3,307.1 437.0,302.7 438.8,297.7 440.9,292.3 443.1,286.6 445.4,280.7 447.9,274.6 450.5,268.6 453.2,262.6 456.0,256.9 458.8,251.5 461.8,246.3 464.9,241.1 468.3,235.9 471.7,230.7 475.3,225.6 479.0,220.4 482.7,215.2 486.5,210.0 490.4,204.8 494.2,199.6 498.0,194.4 501.7,189.2 505.4,184.0 509.2,178.8 513.0,173.5 516.8,168.3 520.6,163.1 524.5,157.8 528.4,152.6 532.2,147.4 536.1,142.2 540.0,136.9 543.9,131.7 547.8,126.5 551.8,121.1 556.1,115.4 560.6,109.4 565.2,103.4 569.8,97.4 574.3,91.4 578.6,85.7 582.7,80.3 586.5,75.4 589.9,71.0 592.7,67.2 595.0,64.2" fill="none" stroke="#3030ff" stroke-width="1.5" stroke-dasharray="2.6,2.1"/>
<polyline points="253.9,737.9 255.7,734.9 258.0,731.1 260.6,726.7 263.6,721.7 266.8,716.3 270.2,710.6 273.8,704.6 277.5,698.5 281.2,692.5 284.9,686.5 288.5,680.8 292.0,675.4 295.5,670.2 299.0,665.0 302.5,659.8 306.2,654.6 309.8,649.4 313.5,644.2 317.2,639.0 321.0,633.8 324.7,628.6 328.5,623.4 332.2,618.2 335.9,613.0 339.6,607.8 343.3,602.6 347.0,597.4 350.7,592.2 354.4,587.0 358.2,581.8 361.9,576.6 365.7,571.4 369.4,566.2 373.2,561.0 377.1,555.8 380.9,550.6 384.9,545.2 389.2,539.5 393.7,533.5 398.3,527.5 402.9,521.4 407.5,515.5 411.8,509.7 416.0,504.3 419.8,499.3 423.2,494.9 426.1,491.1 428.4,488.1" fill="none" stroke="#5a5aff" stroke-width="1.2" stroke-dasharray="1.7,3.2"/>
<line x1="550.7" y1="156.9" x2="540.4" y2="148.6" stroke="#3535ff" stroke-width="0.95"/>
<polygon points="535.0,144.2 541.7,147.0 539.2,150.2" fill="#3535ff"/>
<text x="531.7" y="165.2" font-size="9.8" fill="#3535ff" font-style="italic">&#956;</text>
<text x="536.4" y="167.39999999999998" font-size="6.8" fill="#3535ff" font-style="italic">&#948;</text>
<text x="543.8" y="165.2" font-size="9.8" fill="#3535ff">=</text>
<text x="552.0" y="165.2" font-size="9.8" fill="#3535ff">0.4356</text>
<text x="579.8" y="165.7" font-size="9.8" fill="#3535ff">*</text>
<text x="586.4" y="165.2" font-size="9.8" fill="#3535ff">exp(</text>
<text x="616.2" y="158.6" font-size="9.8" fill="#3535ff" font-style="italic" text-anchor="middle">d</text>
<line x1="605" y1="160.6" x2="627.8" y2="160.6" stroke="#3535ff" stroke-width="0.8"/>
<text x="605.0" y="172.8" font-size="9.8" fill="#3535ff">0.569</text>
<text x="628.0" y="165.2" font-size="9.8" fill="#3535ff">)</text>
<text x="633.4" y="165.2" font-size="9.8" fill="#3535ff">&#8722;</text>
<text x="640.4" y="165.2" font-size="9.8" fill="#3535ff">0.3927</text>
<line x1="338.5" y1="644.9" x2="327.0" y2="633.9" stroke="#4444ff" stroke-width="0.95"/>
<polygon points="322.0,629.0 328.4,632.4 325.7,635.3" fill="#4444ff"/>
<text x="317.9" y="655.8" font-size="10.8" fill="#4444ff" font-style="italic">&#956;</text>
<text x="323.6" y="658.3" font-size="7.4" fill="#4444ff" font-style="italic">&#948;</text>
<text x="331.9" y="655.8" font-size="10.8" fill="#4444ff">=</text>
<text x="340.4" y="655.8" font-size="10.8" fill="#4444ff">0.5634</text>
<text x="370.0" y="656.3" font-size="10.8" fill="#4444ff">*</text>
<text x="376.0" y="655.8" font-size="10.8" fill="#4444ff">exp(</text>
<text x="409.5" y="648.4" font-size="10.8" fill="#4444ff" font-style="italic" text-anchor="middle">d</text>
<line x1="398.1" y1="653.4" x2="421.7" y2="653.4" stroke="#4444ff" stroke-width="0.8"/>
<text x="398.1" y="663.3" font-size="10.8" fill="#4444ff">0.031</text>
<text x="421.7" y="655.8" font-size="10.8" fill="#4444ff">)</text>
<text x="427.6" y="655.8" font-size="10.8" fill="#4444ff">&#8722;</text>
<text x="434.1" y="655.8" font-size="10.8" fill="#4444ff">0.5153</text>
</svg>
</body></html>
